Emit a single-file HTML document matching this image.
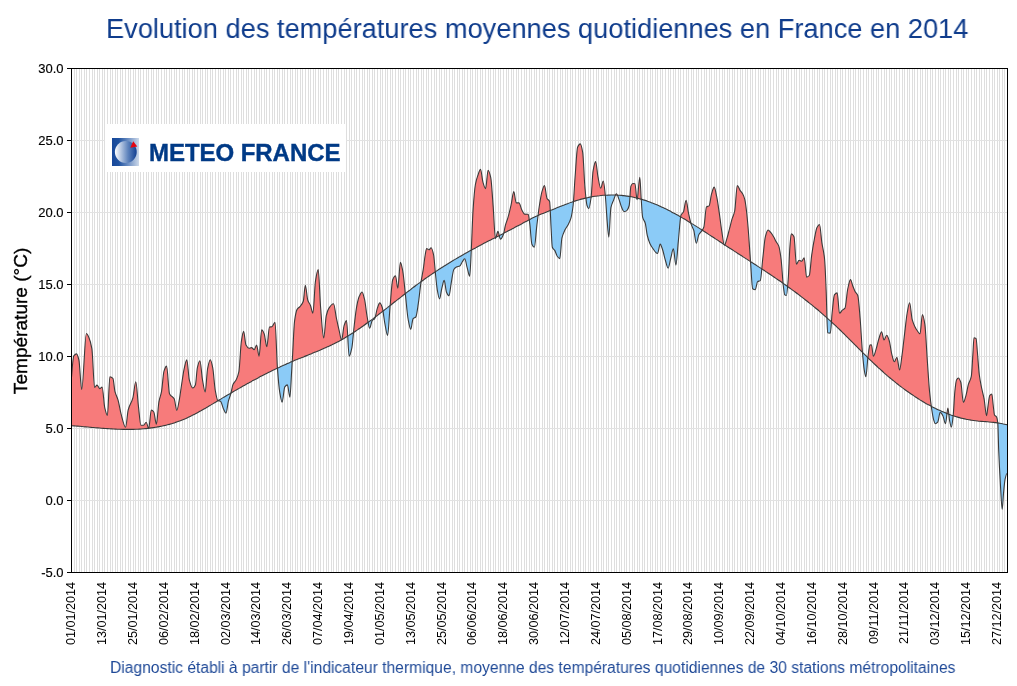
<!DOCTYPE html>
<html><head><meta charset="utf-8"><title>Evolution des températures moyennes quotidiennes en France en 2014</title>
<style>
html,body{margin:0;padding:0;background:#fff;}
#t1,#f1,#l1,.yl,.xl span,.ytitle span{will-change:transform;}
body{width:1017px;height:686px;overflow:hidden;position:relative;font-family:"Liberation Sans",sans-serif;}
#chart{position:absolute;left:0;top:0;width:1017px;height:686px;}
.title{position:absolute;left:0;top:10.3px;width:1017px;height:36px;line-height:36px;white-space:nowrap;color:#0f3c8c;font-size:28.2px;}
.title span{position:absolute;left:105.9px;display:inline-block;transform-origin:0 50%;transform:scaleX(0.9655);}
.foot{position:absolute;left:0;top:656.5px;height:22px;line-height:22px;white-space:nowrap;color:#1f4997;font-size:16px;}
.foot span{position:absolute;left:110.1px;display:inline-block;transform-origin:0 50%;transform:scaleX(0.9764);}
.yl{position:absolute;right:953.3px;width:40px;text-align:right;font-size:13px;line-height:14px;height:14px;color:#000;white-space:nowrap;transform:translate(-0.4px,-0.3px) scale(1,1.04);transform-origin:100% 80%;-webkit-text-stroke:0.15px #000;}
.xl{position:absolute;top:581px;width:14px;height:66px;color:#000;font-size:13px;}
.xl span{position:absolute;left:0;top:0;display:block;width:66px;height:14px;line-height:14px;text-align:right;white-space:nowrap;transform-origin:0 0;transform:translate(0,66px) rotate(-90deg);}
.xl span b{font-weight:normal;display:inline-block;transform:scaleX(0.97);transform-origin:50% 50%;}
.ytitle{position:absolute;left:10px;top:247px;width:22px;height:147px;color:#000;font-size:18px;}
.ytitle span{position:absolute;left:0;top:0;display:block;width:147px;height:22px;line-height:22px;text-align:center;white-space:nowrap;transform-origin:0 0;transform:translate(0,147px) rotate(-90deg);-webkit-text-stroke:0.3px #000;}
.ytitle span b{font-weight:normal;display:inline-block;transform:scaleX(1.06);}
.logo{position:absolute;left:105px;top:124px;width:241px;height:48px;background:#fff;}
.logo .ico{position:absolute;left:7px;top:14px;width:27px;height:28px;}
.logo .txt{position:absolute;left:44.2px;-webkit-text-stroke:0.4px #003a86;letter-spacing:-0.05px;top:12.5px;height:32px;line-height:32px;font-weight:bold;font-size:24px;color:#003a86;white-space:nowrap;}
.logo .txt span{display:inline-block;transform-origin:0 50%;}
</style></head><body>
<svg id="chart" width="1017" height="686" viewBox="0 0 1017 686">
<defs>
<clipPath id="above"><path d="M71.5 425.7C72.2 425.7 74.2 425.9 75.5 426C76.8 426.1 78.2 426.2 79.5 426.3C80.8 426.4 82.2 426.5 83.5 426.7C84.8 426.8 86.2 426.9 87.5 427C88.8 427.1 90.2 427.2 91.5 427.4C92.8 427.5 94.2 427.6 95.5 427.7C96.8 427.8 98.2 427.9 99.5 428C100.8 428.1 102.2 428.3 103.5 428.4C104.8 428.5 106.2 428.5 107.5 428.6C108.8 428.7 110.2 428.8 111.5 428.9C112.8 429 114.2 429 115.5 429.1C116.8 429.2 118.2 429.2 119.5 429.3C120.8 429.3 122.2 429.3 123.5 429.4C124.8 429.4 126.2 429.4 127.5 429.4C128.8 429.4 130.2 429.4 131.5 429.4C132.8 429.4 134.2 429.3 135.5 429.3C136.8 429.2 138.2 429.2 139.5 429.1C140.8 429 142.2 428.9 143.5 428.8C144.8 428.7 146.2 428.6 147.5 428.4C148.8 428.3 150.2 428.1 151.5 427.9C152.8 427.8 154.2 427.6 155.5 427.3C156.8 427.1 158.2 426.9 159.5 426.6C160.8 426.4 162.2 426.1 163.5 425.8C164.8 425.5 166.2 425.2 167.5 424.8C168.8 424.5 170.2 424.1 171.5 423.7C172.8 423.3 174.2 422.9 175.5 422.4C176.8 422 178.2 421.5 179.5 421C180.8 420.5 182.2 420 183.5 419.4C184.8 418.9 186.2 418.3 187.5 417.7C188.8 417.1 190.2 416.4 191.5 415.8C192.8 415.1 194.2 414.4 195.5 413.7C196.8 413 198.2 412.3 199.5 411.5C200.8 410.8 202.2 410.1 203.5 409.3C204.8 408.5 206.2 407.7 207.5 407C208.8 406.2 210.2 405.4 211.5 404.6C212.8 403.8 214.2 403 215.5 402.2C216.8 401.4 218.2 400.6 219.5 399.8C220.8 399 222.2 398.2 223.5 397.4C224.8 396.6 226.2 395.8 227.5 395C228.8 394.3 230.2 393.5 231.5 392.7C232.8 391.9 234.2 391.2 235.5 390.4C236.8 389.6 238.2 388.9 239.5 388.1C240.8 387.3 242.2 386.6 243.5 385.8C244.8 385.1 246.2 384.3 247.5 383.6C248.8 382.9 250.2 382.1 251.5 381.4C252.8 380.7 254.2 380 255.5 379.3C256.8 378.5 258.2 377.8 259.5 377.1C260.8 376.4 262.2 375.7 263.5 375C264.8 374.4 266.2 373.7 267.5 373C268.8 372.3 270.2 371.7 271.5 371C272.8 370.4 274.2 369.7 275.5 369.1C276.8 368.4 278.2 367.8 279.5 367.2C280.8 366.5 282.2 365.9 283.5 365.3C284.8 364.7 286.2 364.1 287.5 363.5C288.8 362.9 290.2 362.4 291.5 361.8C292.8 361.2 294.2 360.7 295.5 360.1C296.8 359.6 298.2 359 299.5 358.5C300.8 357.9 302.2 357.4 303.5 356.9C304.8 356.3 306.2 355.8 307.5 355.3C308.8 354.7 310.2 354.2 311.5 353.7C312.8 353.1 314.2 352.6 315.5 352C316.8 351.5 318.2 350.9 319.5 350.4C320.8 349.8 322.2 349.2 323.5 348.6C324.8 348 326.2 347.5 327.5 346.8C328.8 346.2 330.2 345.6 331.5 345C332.8 344.3 334.2 343.7 335.5 343C336.8 342.3 338.2 341.6 339.5 340.9C340.8 340.2 342.2 339.4 343.5 338.7C344.8 337.9 346.2 337.1 347.5 336.3C348.8 335.5 350.2 334.7 351.5 333.8C352.8 333 354.2 332.1 355.5 331.2C356.8 330.3 358.2 329.4 359.5 328.5C360.8 327.6 362.2 326.7 363.5 325.7C364.8 324.8 366.2 323.8 367.5 322.8C368.8 321.9 370.2 320.9 371.5 319.9C372.8 318.9 374.2 317.9 375.5 316.9C376.8 315.9 378.2 314.8 379.5 313.8C380.8 312.8 382.2 311.8 383.5 310.7C384.8 309.7 386.2 308.6 387.5 307.6C388.8 306.5 390.2 305.5 391.5 304.5C392.8 303.4 394.2 302.3 395.5 301.3C396.8 300.2 398.2 299.2 399.5 298.2C400.8 297.1 402.2 296.1 403.5 295C404.8 294 406.2 292.9 407.5 291.9C408.8 290.9 410.2 289.9 411.5 288.8C412.8 287.8 414.2 286.8 415.5 285.8C416.8 284.8 418.2 283.8 419.5 282.9C420.8 281.9 422.2 280.9 423.5 280C424.8 279 426.2 278.1 427.5 277.1C428.8 276.2 430.2 275.3 431.5 274.4C432.8 273.5 434.2 272.6 435.5 271.7C436.8 270.8 438.2 269.9 439.5 269C440.8 268.2 442.2 267.3 443.5 266.5C444.8 265.6 446.2 264.8 447.5 264C448.8 263.1 450.2 262.3 451.5 261.5C452.8 260.7 454.2 259.9 455.5 259.1C456.8 258.3 458.2 257.5 459.5 256.8C460.8 256 462.2 255.2 463.5 254.5C464.8 253.7 466.2 253 467.5 252.2C468.8 251.5 470.2 250.7 471.5 250C472.8 249.3 474.2 248.6 475.5 247.9C476.8 247.1 478.2 246.4 479.5 245.7C480.8 245 482.2 244.3 483.5 243.6C484.8 243 486.2 242.3 487.5 241.6C488.8 240.9 490.2 240.2 491.5 239.5C492.8 238.8 494.2 238.2 495.5 237.5C496.8 236.8 498.2 236.1 499.5 235.4C500.8 234.8 502.2 234.1 503.5 233.4C504.8 232.7 506.2 232 507.5 231.3C508.8 230.6 510.2 229.9 511.5 229.2C512.8 228.5 514.2 227.8 515.5 227.1C516.8 226.4 518.2 225.7 519.5 225C520.8 224.3 522.2 223.5 523.5 222.8C524.8 222.1 526.2 221.4 527.5 220.7C528.8 220 530.2 219.3 531.5 218.6C532.8 217.9 534.2 217.3 535.5 216.6C536.8 216 538.2 215.4 539.5 214.8C540.8 214.2 542.2 213.7 543.5 213.2C544.8 212.6 546.2 212.1 547.5 211.6C548.8 211.1 550.2 210.6 551.5 210C552.8 209.5 554.2 209 555.5 208.4C556.8 207.9 558.2 207.4 559.5 206.8C560.8 206.3 562.2 205.8 563.5 205.3C564.8 204.7 566.2 204.2 567.5 203.7C568.8 203.2 570.2 202.7 571.5 202.3C572.8 201.8 574.2 201.3 575.5 200.9C576.8 200.5 578.2 200.1 579.5 199.7C580.8 199.3 582.2 199 583.5 198.6C584.8 198.3 586.2 198 587.5 197.7C588.8 197.4 590.2 197.1 591.5 196.9C592.8 196.6 594.2 196.4 595.5 196.2C596.8 196 598.2 195.8 599.5 195.7C600.8 195.5 602.2 195.4 603.5 195.3C604.8 195.2 606.2 195.1 607.5 195.1C608.8 195 610.2 195 611.5 195C612.8 195 614.2 195 615.5 195C616.8 195.1 618.2 195.2 619.5 195.2C620.8 195.3 622.2 195.5 623.5 195.6C624.8 195.8 626.2 195.9 627.5 196.1C628.8 196.4 630.2 196.6 631.5 196.8C632.8 197.1 634.2 197.4 635.5 197.7C636.8 198 638.2 198.3 639.5 198.7C640.8 199.1 642.2 199.4 643.5 199.9C644.8 200.3 646.2 200.7 647.5 201.2C648.8 201.7 650.2 202.1 651.5 202.7C652.8 203.2 654.2 203.7 655.5 204.3C656.8 204.8 658.2 205.4 659.5 206C660.8 206.6 662.2 207.2 663.5 207.8C664.8 208.5 666.2 209.1 667.5 209.8C668.8 210.5 670.2 211.2 671.5 211.9C672.8 212.6 674.2 213.3 675.5 214C676.8 214.7 678.2 215.5 679.5 216.2C680.8 217 682.2 217.8 683.5 218.6C684.8 219.3 686.2 220.1 687.5 221C688.8 221.8 690.2 222.6 691.5 223.4C692.8 224.2 694.2 225.1 695.5 225.9C696.8 226.7 698.2 227.6 699.5 228.4C700.8 229.3 702.2 230.1 703.5 231C704.8 231.9 706.2 232.7 707.5 233.6C708.8 234.5 710.2 235.4 711.5 236.2C712.8 237.1 714.2 238 715.5 238.9C716.8 239.7 718.2 240.6 719.5 241.5C720.8 242.4 722.2 243.2 723.5 244.1C724.8 245 726.2 245.9 727.5 246.7C728.8 247.6 730.2 248.5 731.5 249.3C732.8 250.2 734.2 251 735.5 251.9C736.8 252.8 738.2 253.6 739.5 254.5C740.8 255.3 742.2 256.2 743.5 257.1C744.8 257.9 746.2 258.8 747.5 259.6C748.8 260.5 750.2 261.4 751.5 262.2C752.8 263.1 754.2 263.9 755.5 264.8C756.8 265.7 758.2 266.5 759.5 267.4C760.8 268.3 762.2 269.2 763.5 270C764.8 270.9 766.2 271.8 767.5 272.7C768.8 273.6 770.2 274.5 771.5 275.4C772.8 276.3 774.2 277.2 775.5 278.1C776.8 279 778.2 279.9 779.5 280.8C780.8 281.8 782.2 282.7 783.5 283.6C784.8 284.6 786.2 285.5 787.5 286.5C788.8 287.4 790.2 288.4 791.5 289.4C792.8 290.3 794.2 291.3 795.5 292.3C796.8 293.3 798.2 294.3 799.5 295.3C800.8 296.3 802.2 297.4 803.5 298.4C804.8 299.4 806.2 300.5 807.5 301.5C808.8 302.6 810.2 303.6 811.5 304.7C812.8 305.8 814.2 306.9 815.5 308C816.8 309.1 818.2 310.2 819.5 311.4C820.8 312.5 822.2 313.7 823.5 314.8C824.8 316 826.2 317.2 827.5 318.4C828.8 319.6 830.2 320.8 831.5 322C832.8 323.2 834.2 324.5 835.5 325.7C836.8 327 838.2 328.2 839.5 329.5C840.8 330.8 842.2 332.1 843.5 333.4C844.8 334.7 846.2 336 847.5 337.3C848.8 338.6 850.2 340 851.5 341.3C852.8 342.6 854.2 344 855.5 345.3C856.8 346.7 858.2 348 859.5 349.4C860.8 350.7 862.2 352.1 863.5 353.4C864.8 354.7 866.2 356 867.5 357.4C868.8 358.7 870.2 360 871.5 361.2C872.8 362.5 874.2 363.8 875.5 365C876.8 366.3 878.2 367.5 879.5 368.7C880.8 369.9 882.2 371.1 883.5 372.3C884.8 373.5 886.2 374.6 887.5 375.8C888.8 376.9 890.2 378 891.5 379.1C892.8 380.3 894.2 381.3 895.5 382.4C896.8 383.5 898.2 384.5 899.5 385.6C900.8 386.6 902.2 387.6 903.5 388.6C904.8 389.6 906.2 390.6 907.5 391.5C908.8 392.5 910.2 393.4 911.5 394.3C912.8 395.2 914.2 396.1 915.5 397C916.8 397.9 918.2 398.7 919.5 399.6C920.8 400.4 922.2 401.2 923.5 402C924.8 402.8 926.2 403.5 927.5 404.3C928.8 405 930.2 405.7 931.5 406.4C932.8 407.1 934.2 407.8 935.5 408.5C936.8 409.1 938.2 409.7 939.5 410.3C940.8 411 942.2 411.5 943.5 412.1C944.8 412.7 946.2 413.2 947.5 413.7C948.8 414.2 950.2 414.7 951.5 415.2C952.8 415.6 954.2 416.1 955.5 416.5C956.8 416.9 958.2 417.3 959.5 417.6C960.8 418 962.2 418.3 963.5 418.6C964.8 419 966.2 419.2 967.5 419.5C968.8 419.8 970.2 420 971.5 420.2C972.8 420.4 974.2 420.6 975.5 420.7C976.8 420.9 978.2 421 979.5 421.2C980.8 421.3 982.2 421.4 983.5 421.5C984.8 421.6 986.2 421.7 987.5 421.8C988.8 422 990.2 422.1 991.5 422.2C992.8 422.3 994.2 422.5 995.5 422.6C996.8 422.8 998.2 423 999.5 423.2C1000.8 423.4 1002.2 423.7 1003.5 424C1004.8 424.2 1006.8 424.8 1007.5 424.9L1007.5 68L71.5 68Z"/></clipPath>
<clipPath id="below"><path d="M71.5 425.7C72.2 425.7 74.2 425.9 75.5 426C76.8 426.1 78.2 426.2 79.5 426.3C80.8 426.4 82.2 426.5 83.5 426.7C84.8 426.8 86.2 426.9 87.5 427C88.8 427.1 90.2 427.2 91.5 427.4C92.8 427.5 94.2 427.6 95.5 427.7C96.8 427.8 98.2 427.9 99.5 428C100.8 428.1 102.2 428.3 103.5 428.4C104.8 428.5 106.2 428.5 107.5 428.6C108.8 428.7 110.2 428.8 111.5 428.9C112.8 429 114.2 429 115.5 429.1C116.8 429.2 118.2 429.2 119.5 429.3C120.8 429.3 122.2 429.3 123.5 429.4C124.8 429.4 126.2 429.4 127.5 429.4C128.8 429.4 130.2 429.4 131.5 429.4C132.8 429.4 134.2 429.3 135.5 429.3C136.8 429.2 138.2 429.2 139.5 429.1C140.8 429 142.2 428.9 143.5 428.8C144.8 428.7 146.2 428.6 147.5 428.4C148.8 428.3 150.2 428.1 151.5 427.9C152.8 427.8 154.2 427.6 155.5 427.3C156.8 427.1 158.2 426.9 159.5 426.6C160.8 426.4 162.2 426.1 163.5 425.8C164.8 425.5 166.2 425.2 167.5 424.8C168.8 424.5 170.2 424.1 171.5 423.7C172.8 423.3 174.2 422.9 175.5 422.4C176.8 422 178.2 421.5 179.5 421C180.8 420.5 182.2 420 183.5 419.4C184.8 418.9 186.2 418.3 187.5 417.7C188.8 417.1 190.2 416.4 191.5 415.8C192.8 415.1 194.2 414.4 195.5 413.7C196.8 413 198.2 412.3 199.5 411.5C200.8 410.8 202.2 410.1 203.5 409.3C204.8 408.5 206.2 407.7 207.5 407C208.8 406.2 210.2 405.4 211.5 404.6C212.8 403.8 214.2 403 215.5 402.2C216.8 401.4 218.2 400.6 219.5 399.8C220.8 399 222.2 398.2 223.5 397.4C224.8 396.6 226.2 395.8 227.5 395C228.8 394.3 230.2 393.5 231.5 392.7C232.8 391.9 234.2 391.2 235.5 390.4C236.8 389.6 238.2 388.9 239.5 388.1C240.8 387.3 242.2 386.6 243.5 385.8C244.8 385.1 246.2 384.3 247.5 383.6C248.8 382.9 250.2 382.1 251.5 381.4C252.8 380.7 254.2 380 255.5 379.3C256.8 378.5 258.2 377.8 259.5 377.1C260.8 376.4 262.2 375.7 263.5 375C264.8 374.4 266.2 373.7 267.5 373C268.8 372.3 270.2 371.7 271.5 371C272.8 370.4 274.2 369.7 275.5 369.1C276.8 368.4 278.2 367.8 279.5 367.2C280.8 366.5 282.2 365.9 283.5 365.3C284.8 364.7 286.2 364.1 287.5 363.5C288.8 362.9 290.2 362.4 291.5 361.8C292.8 361.2 294.2 360.7 295.5 360.1C296.8 359.6 298.2 359 299.5 358.5C300.8 357.9 302.2 357.4 303.5 356.9C304.8 356.3 306.2 355.8 307.5 355.3C308.8 354.7 310.2 354.2 311.5 353.7C312.8 353.1 314.2 352.6 315.5 352C316.8 351.5 318.2 350.9 319.5 350.4C320.8 349.8 322.2 349.2 323.5 348.6C324.8 348 326.2 347.5 327.5 346.8C328.8 346.2 330.2 345.6 331.5 345C332.8 344.3 334.2 343.7 335.5 343C336.8 342.3 338.2 341.6 339.5 340.9C340.8 340.2 342.2 339.4 343.5 338.7C344.8 337.9 346.2 337.1 347.5 336.3C348.8 335.5 350.2 334.7 351.5 333.8C352.8 333 354.2 332.1 355.5 331.2C356.8 330.3 358.2 329.4 359.5 328.5C360.8 327.6 362.2 326.7 363.5 325.7C364.8 324.8 366.2 323.8 367.5 322.8C368.8 321.9 370.2 320.9 371.5 319.9C372.8 318.9 374.2 317.9 375.5 316.9C376.8 315.9 378.2 314.8 379.5 313.8C380.8 312.8 382.2 311.8 383.5 310.7C384.8 309.7 386.2 308.6 387.5 307.6C388.8 306.5 390.2 305.5 391.5 304.5C392.8 303.4 394.2 302.3 395.5 301.3C396.8 300.2 398.2 299.2 399.5 298.2C400.8 297.1 402.2 296.1 403.5 295C404.8 294 406.2 292.9 407.5 291.9C408.8 290.9 410.2 289.9 411.5 288.8C412.8 287.8 414.2 286.8 415.5 285.8C416.8 284.8 418.2 283.8 419.5 282.9C420.8 281.9 422.2 280.9 423.5 280C424.8 279 426.2 278.1 427.5 277.1C428.8 276.2 430.2 275.3 431.5 274.4C432.8 273.5 434.2 272.6 435.5 271.7C436.8 270.8 438.2 269.9 439.5 269C440.8 268.2 442.2 267.3 443.5 266.5C444.8 265.6 446.2 264.8 447.5 264C448.8 263.1 450.2 262.3 451.5 261.5C452.8 260.7 454.2 259.9 455.5 259.1C456.8 258.3 458.2 257.5 459.5 256.8C460.8 256 462.2 255.2 463.5 254.5C464.8 253.7 466.2 253 467.5 252.2C468.8 251.5 470.2 250.7 471.5 250C472.8 249.3 474.2 248.6 475.5 247.9C476.8 247.1 478.2 246.4 479.5 245.7C480.8 245 482.2 244.3 483.5 243.6C484.8 243 486.2 242.3 487.5 241.6C488.8 240.9 490.2 240.2 491.5 239.5C492.8 238.8 494.2 238.2 495.5 237.5C496.8 236.8 498.2 236.1 499.5 235.4C500.8 234.8 502.2 234.1 503.5 233.4C504.8 232.7 506.2 232 507.5 231.3C508.8 230.6 510.2 229.9 511.5 229.2C512.8 228.5 514.2 227.8 515.5 227.1C516.8 226.4 518.2 225.7 519.5 225C520.8 224.3 522.2 223.5 523.5 222.8C524.8 222.1 526.2 221.4 527.5 220.7C528.8 220 530.2 219.3 531.5 218.6C532.8 217.9 534.2 217.3 535.5 216.6C536.8 216 538.2 215.4 539.5 214.8C540.8 214.2 542.2 213.7 543.5 213.2C544.8 212.6 546.2 212.1 547.5 211.6C548.8 211.1 550.2 210.6 551.5 210C552.8 209.5 554.2 209 555.5 208.4C556.8 207.9 558.2 207.4 559.5 206.8C560.8 206.3 562.2 205.8 563.5 205.3C564.8 204.7 566.2 204.2 567.5 203.7C568.8 203.2 570.2 202.7 571.5 202.3C572.8 201.8 574.2 201.3 575.5 200.9C576.8 200.5 578.2 200.1 579.5 199.7C580.8 199.3 582.2 199 583.5 198.6C584.8 198.3 586.2 198 587.5 197.7C588.8 197.4 590.2 197.1 591.5 196.9C592.8 196.6 594.2 196.4 595.5 196.2C596.8 196 598.2 195.8 599.5 195.7C600.8 195.5 602.2 195.4 603.5 195.3C604.8 195.2 606.2 195.1 607.5 195.1C608.8 195 610.2 195 611.5 195C612.8 195 614.2 195 615.5 195C616.8 195.1 618.2 195.2 619.5 195.2C620.8 195.3 622.2 195.5 623.5 195.6C624.8 195.8 626.2 195.9 627.5 196.1C628.8 196.4 630.2 196.6 631.5 196.8C632.8 197.1 634.2 197.4 635.5 197.7C636.8 198 638.2 198.3 639.5 198.7C640.8 199.1 642.2 199.4 643.5 199.9C644.8 200.3 646.2 200.7 647.5 201.2C648.8 201.7 650.2 202.1 651.5 202.7C652.8 203.2 654.2 203.7 655.5 204.3C656.8 204.8 658.2 205.4 659.5 206C660.8 206.6 662.2 207.2 663.5 207.8C664.8 208.5 666.2 209.1 667.5 209.8C668.8 210.5 670.2 211.2 671.5 211.9C672.8 212.6 674.2 213.3 675.5 214C676.8 214.7 678.2 215.5 679.5 216.2C680.8 217 682.2 217.8 683.5 218.6C684.8 219.3 686.2 220.1 687.5 221C688.8 221.8 690.2 222.6 691.5 223.4C692.8 224.2 694.2 225.1 695.5 225.9C696.8 226.7 698.2 227.6 699.5 228.4C700.8 229.3 702.2 230.1 703.5 231C704.8 231.9 706.2 232.7 707.5 233.6C708.8 234.5 710.2 235.4 711.5 236.2C712.8 237.1 714.2 238 715.5 238.9C716.8 239.7 718.2 240.6 719.5 241.5C720.8 242.4 722.2 243.2 723.5 244.1C724.8 245 726.2 245.9 727.5 246.7C728.8 247.6 730.2 248.5 731.5 249.3C732.8 250.2 734.2 251 735.5 251.9C736.8 252.8 738.2 253.6 739.5 254.5C740.8 255.3 742.2 256.2 743.5 257.1C744.8 257.9 746.2 258.8 747.5 259.6C748.8 260.5 750.2 261.4 751.5 262.2C752.8 263.1 754.2 263.9 755.5 264.8C756.8 265.7 758.2 266.5 759.5 267.4C760.8 268.3 762.2 269.2 763.5 270C764.8 270.9 766.2 271.8 767.5 272.7C768.8 273.6 770.2 274.5 771.5 275.4C772.8 276.3 774.2 277.2 775.5 278.1C776.8 279 778.2 279.9 779.5 280.8C780.8 281.8 782.2 282.7 783.5 283.6C784.8 284.6 786.2 285.5 787.5 286.5C788.8 287.4 790.2 288.4 791.5 289.4C792.8 290.3 794.2 291.3 795.5 292.3C796.8 293.3 798.2 294.3 799.5 295.3C800.8 296.3 802.2 297.4 803.5 298.4C804.8 299.4 806.2 300.5 807.5 301.5C808.8 302.6 810.2 303.6 811.5 304.7C812.8 305.8 814.2 306.9 815.5 308C816.8 309.1 818.2 310.2 819.5 311.4C820.8 312.5 822.2 313.7 823.5 314.8C824.8 316 826.2 317.2 827.5 318.4C828.8 319.6 830.2 320.8 831.5 322C832.8 323.2 834.2 324.5 835.5 325.7C836.8 327 838.2 328.2 839.5 329.5C840.8 330.8 842.2 332.1 843.5 333.4C844.8 334.7 846.2 336 847.5 337.3C848.8 338.6 850.2 340 851.5 341.3C852.8 342.6 854.2 344 855.5 345.3C856.8 346.7 858.2 348 859.5 349.4C860.8 350.7 862.2 352.1 863.5 353.4C864.8 354.7 866.2 356 867.5 357.4C868.8 358.7 870.2 360 871.5 361.2C872.8 362.5 874.2 363.8 875.5 365C876.8 366.3 878.2 367.5 879.5 368.7C880.8 369.9 882.2 371.1 883.5 372.3C884.8 373.5 886.2 374.6 887.5 375.8C888.8 376.9 890.2 378 891.5 379.1C892.8 380.3 894.2 381.3 895.5 382.4C896.8 383.5 898.2 384.5 899.5 385.6C900.8 386.6 902.2 387.6 903.5 388.6C904.8 389.6 906.2 390.6 907.5 391.5C908.8 392.5 910.2 393.4 911.5 394.3C912.8 395.2 914.2 396.1 915.5 397C916.8 397.9 918.2 398.7 919.5 399.6C920.8 400.4 922.2 401.2 923.5 402C924.8 402.8 926.2 403.5 927.5 404.3C928.8 405 930.2 405.7 931.5 406.4C932.8 407.1 934.2 407.8 935.5 408.5C936.8 409.1 938.2 409.7 939.5 410.3C940.8 411 942.2 411.5 943.5 412.1C944.8 412.7 946.2 413.2 947.5 413.7C948.8 414.2 950.2 414.7 951.5 415.2C952.8 415.6 954.2 416.1 955.5 416.5C956.8 416.9 958.2 417.3 959.5 417.6C960.8 418 962.2 418.3 963.5 418.6C964.8 419 966.2 419.2 967.5 419.5C968.8 419.8 970.2 420 971.5 420.2C972.8 420.4 974.2 420.6 975.5 420.7C976.8 420.9 978.2 421 979.5 421.2C980.8 421.3 982.2 421.4 983.5 421.5C984.8 421.6 986.2 421.7 987.5 421.8C988.8 422 990.2 422.1 991.5 422.2C992.8 422.3 994.2 422.5 995.5 422.6C996.8 422.8 998.2 423 999.5 423.2C1000.8 423.4 1002.2 423.7 1003.5 424C1004.8 424.2 1006.8 424.8 1007.5 424.9L1007.5 572L71.5 572Z"/></clipPath>
<clipPath id="plot"><rect x="71" y="68" width="937" height="505"/></clipPath>
</defs>
<rect x="71" y="68" width="936" height="504" fill="#fff"/>
<path d="M74.5 69V572M76.5 69V572M79.5 69V572M81.5 69V572M84.5 69V572M86.5 69V572M89.5 69V572M92.5 69V572M94.5 69V572M97.5 69V572M99.5 69V572M102.5 69V572M104.5 69V572M107.5 69V572M110.5 69V572M112.5 69V572M115.5 69V572M117.5 69V572M120.5 69V572M122.5 69V572M125.5 69V572M128.5 69V572M130.5 69V572M133.5 69V572M135.5 69V572M138.5 69V572M140.5 69V572M143.5 69V572M146.5 69V572M148.5 69V572M151.5 69V572M153.5 69V572M156.5 69V572M158.5 69V572M161.5 69V572M164.5 69V572M166.5 69V572M169.5 69V572M171.5 69V572M174.5 69V572M176.5 69V572M179.5 69V572M182.5 69V572M184.5 69V572M187.5 69V572M189.5 69V572M192.5 69V572M194.5 69V572M197.5 69V572M200.5 69V572M202.5 69V572M205.5 69V572M207.5 69V572M210.5 69V572M212.5 69V572M215.5 69V572M218.5 69V572M220.5 69V572M223.5 69V572M225.5 69V572M228.5 69V572M230.5 69V572M233.5 69V572M236.5 69V572M238.5 69V572M241.5 69V572M243.5 69V572M246.5 69V572M248.5 69V572M251.5 69V572M254.5 69V572M256.5 69V572M259.5 69V572M261.5 69V572M264.5 69V572M266.5 69V572M269.5 69V572M272.5 69V572M274.5 69V572M277.5 69V572M279.5 69V572M282.5 69V572M284.5 69V572M287.5 69V572M290.5 69V572M292.5 69V572M295.5 69V572M297.5 69V572M300.5 69V572M302.5 69V572M305.5 69V572M308.5 69V572M310.5 69V572M313.5 69V572M315.5 69V572M318.5 69V572M320.5 69V572M323.5 69V572M326.5 69V572M328.5 69V572M331.5 69V572M333.5 69V572M336.5 69V572M338.5 69V572M341.5 69V572M344.5 69V572M346.5 69V572M349.5 69V572M351.5 69V572M354.5 69V572M356.5 69V572M359.5 69V572M362.5 69V572M364.5 69V572M367.5 69V572M369.5 69V572M372.5 69V572M374.5 69V572M377.5 69V572M380.5 69V572M382.5 69V572M385.5 69V572M387.5 69V572M390.5 69V572M392.5 69V572M395.5 69V572M398.5 69V572M400.5 69V572M403.5 69V572M405.5 69V572M408.5 69V572M410.5 69V572M413.5 69V572M416.5 69V572M418.5 69V572M421.5 69V572M423.5 69V572M426.5 69V572M428.5 69V572M431.5 69V572M434.5 69V572M436.5 69V572M439.5 69V572M441.5 69V572M444.5 69V572M446.5 69V572M449.5 69V572M452.5 69V572M454.5 69V572M457.5 69V572M459.5 69V572M462.5 69V572M464.5 69V572M467.5 69V572M470.5 69V572M472.5 69V572M475.5 69V572M477.5 69V572M480.5 69V572M482.5 69V572M485.5 69V572M488.5 69V572M490.5 69V572M493.5 69V572M495.5 69V572M498.5 69V572M500.5 69V572M503.5 69V572M506.5 69V572M508.5 69V572M511.5 69V572M513.5 69V572M516.5 69V572M518.5 69V572M521.5 69V572M524.5 69V572M526.5 69V572M529.5 69V572M531.5 69V572M534.5 69V572M536.5 69V572M539.5 69V572M542.5 69V572M544.5 69V572M547.5 69V572M549.5 69V572M552.5 69V572M554.5 69V572M557.5 69V572M560.5 69V572M562.5 69V572M565.5 69V572M567.5 69V572M570.5 69V572M572.5 69V572M575.5 69V572M578.5 69V572M580.5 69V572M583.5 69V572M585.5 69V572M588.5 69V572M590.5 69V572M593.5 69V572M596.5 69V572M598.5 69V572M601.5 69V572M603.5 69V572M606.5 69V572M608.5 69V572M611.5 69V572M614.5 69V572M616.5 69V572M619.5 69V572M621.5 69V572M624.5 69V572M626.5 69V572M629.5 69V572M632.5 69V572M634.5 69V572M637.5 69V572M639.5 69V572M642.5 69V572M644.5 69V572M647.5 69V572M650.5 69V572M652.5 69V572M655.5 69V572M657.5 69V572M660.5 69V572M662.5 69V572M665.5 69V572M668.5 69V572M670.5 69V572M673.5 69V572M675.5 69V572M678.5 69V572M680.5 69V572M683.5 69V572M686.5 69V572M688.5 69V572M691.5 69V572M693.5 69V572M696.5 69V572M698.5 69V572M701.5 69V572M704.5 69V572M706.5 69V572M709.5 69V572M711.5 69V572M714.5 69V572M716.5 69V572M719.5 69V572M722.5 69V572M724.5 69V572M727.5 69V572M729.5 69V572M732.5 69V572M734.5 69V572M737.5 69V572M740.5 69V572M742.5 69V572M745.5 69V572M747.5 69V572M750.5 69V572M752.5 69V572M755.5 69V572M758.5 69V572M760.5 69V572M763.5 69V572M765.5 69V572M768.5 69V572M770.5 69V572M773.5 69V572M776.5 69V572M778.5 69V572M781.5 69V572M783.5 69V572M786.5 69V572M788.5 69V572M791.5 69V572M794.5 69V572M796.5 69V572M799.5 69V572M801.5 69V572M804.5 69V572M806.5 69V572M809.5 69V572M812.5 69V572M814.5 69V572M817.5 69V572M819.5 69V572M822.5 69V572M824.5 69V572M827.5 69V572M830.5 69V572M832.5 69V572M835.5 69V572M837.5 69V572M840.5 69V572M842.5 69V572M845.5 69V572M848.5 69V572M850.5 69V572M853.5 69V572M855.5 69V572M858.5 69V572M860.5 69V572M863.5 69V572M866.5 69V572M868.5 69V572M871.5 69V572M873.5 69V572M876.5 69V572M878.5 69V572M881.5 69V572M884.5 69V572M886.5 69V572M889.5 69V572M891.5 69V572M894.5 69V572M896.5 69V572M899.5 69V572M902.5 69V572M904.5 69V572M907.5 69V572M909.5 69V572M912.5 69V572M914.5 69V572M917.5 69V572M920.5 69V572M922.5 69V572M925.5 69V572M927.5 69V572M930.5 69V572M932.5 69V572M935.5 69V572M938.5 69V572M940.5 69V572M943.5 69V572M945.5 69V572M948.5 69V572M950.5 69V572M953.5 69V572M956.5 69V572M958.5 69V572M961.5 69V572M963.5 69V572M966.5 69V572M968.5 69V572M971.5 69V572M974.5 69V572M976.5 69V572M979.5 69V572M981.5 69V572M984.5 69V572M986.5 69V572M989.5 69V572M992.5 69V572M994.5 69V572M997.5 69V572M999.5 69V572M1002.5 69V572M1004.5 69V572" stroke="#dedede" stroke-width="1" fill="none" shape-rendering="crispEdges"/>
<path d="M72 140.5H1007M72 212.5H1007M72 284.5H1007M72 356.5H1007M72 428.5H1007M72 500.5H1007" stroke="#e2e2e2" stroke-width="1" fill="none" shape-rendering="crispEdges"/>
<g clip-path="url(#plot)">
<g clip-path="url(#above)"><path d="M71.5 377.3C72.27 367.2 73.03 356.95 73.8 355.9C74.73 354.63 75.67 353.9 76.6 353.9C77.37 353.9 78.13 356.81 78.9 360C79.83 363.88 80.77 389.6 81.7 389.6C83.27 389.6 84.83 333.5 86.4 333.5C87.23 333.5 88.07 335.65 88.9 337.5C89.9 339.72 90.9 342.77 91.9 348.8C92.8 354.22 93.7 387.5 94.6 387.5C95.4 387.5 96.2 385.1 97 385.1C97.9 385.1 98.8 388.6 99.7 388.6C100.5 388.6 101.3 387.1 102.1 387.1C103 387.1 103.9 404.23 104.8 408C105.67 411.63 106.53 415.5 107.4 415.5C108.23 415.5 109.07 376.7 109.9 376.7C110.9 376.7 111.9 377.31 112.9 378.4C113.6 379.17 114.3 388.87 115 391.6C116 395.5 117 396.37 118 399.8C119.03 403.34 120.07 410.34 121.1 414.1C122.6 419.55 124.1 427.3 125.6 427.3C126.47 427.3 127.33 413.38 128.2 410C129.77 403.89 131.33 403.49 132.9 397.8C133.87 394.29 134.83 381.8 135.8 381.8C136.67 381.8 137.53 398.58 138.4 405.9C139.23 412.94 140.07 425.3 140.9 425.3C141.8 425.3 142.7 425.3 143.6 425.3C144.47 425.3 145.33 422.2 146.2 422.2C147.03 422.2 147.87 428.4 148.7 428.4C149.57 428.4 150.43 410 151.3 410C152.13 410 152.97 410.86 153.8 412C154.67 413.18 155.53 424.3 156.4 424.3C157.23 424.3 158.07 406.37 158.9 401.8C159.77 397.05 160.63 396.2 161.5 391.6C162.33 387.17 163.17 373.85 164 371.2C164.87 368.45 165.73 366.1 166.6 366.1C167.57 366.1 168.53 391.69 169.5 393.7C171.07 396.96 172.63 395.9 174.2 398.8C175.07 400.41 175.93 410.4 176.8 410.4C177.63 410.4 178.47 404.14 179.3 399.8C179.9 396.67 180.5 391.85 181.1 388C182.13 381.37 183.17 373.1 184.2 368.6C185.07 364.83 185.93 359.8 186.8 359.8C187.63 359.8 188.47 376.62 189.3 379.8C190.43 384.12 191.57 388 192.7 388C193.6 388 194.5 386.8 195.4 384.9C196.07 383.5 196.73 370.41 197.4 367.6C198.23 364.08 199.07 360.8 199.9 360.8C200.77 360.8 201.63 374.95 202.5 379.8C203.4 384.83 204.3 392 205.2 392C206 392 206.8 372.55 207.6 368.6C208.5 364.16 209.4 359.8 210.3 359.8C211.1 359.8 211.9 363.8 212.7 367.6C213.53 371.56 214.37 385.32 215.2 390C216.07 394.87 216.93 400.23 217.8 400.6C218.7 400.98 219.6 400.83 220.5 401.2C221.43 401.58 222.37 406.46 223.3 408.4C224.2 410.27 225.1 413.1 226 413.1C226.8 413.1 227.6 404.24 228.4 401.2C229.17 398.29 229.93 396.79 230.7 394.1C231.5 391.29 232.3 386.05 233.1 384.3C234.13 382.04 235.17 381.85 236.2 379.8C237.1 378.02 238 376.04 238.9 371.6C239.7 367.65 240.5 347.35 241.3 342C242.07 336.87 242.83 331.4 243.6 331.4C244.4 331.4 245.2 343.63 246 345.1C246.97 346.88 247.93 348.2 248.9 348.2C249.77 348.2 250.63 347.6 251.5 347.6C252.4 347.6 253.3 349.6 254.2 349.6C255 349.6 255.8 345.1 256.6 345.1C257.43 345.1 258.27 356.3 259.1 356.3C259.97 356.3 260.83 329.8 261.7 329.8C262.53 329.8 263.37 331.86 264.2 333.9C265.07 336.03 265.93 346.7 266.8 346.7C267.7 346.7 268.6 327.39 269.5 327.1C270.3 326.84 271.1 326.93 271.9 326.7C272.93 326.4 273.97 322.2 275 322.2C275.8 322.2 276.6 356.75 277.4 367.6C278.17 378 278.93 387.33 279.7 392C280.5 396.87 281.3 402.2 282.1 402.2C283 402.2 283.9 388.11 284.8 386.9C285.67 385.73 286.53 384.9 287.4 384.9C288.23 384.9 289.07 397.1 289.9 397.1C290.47 397.1 291.03 381.01 291.6 372C291.93 366.7 292.27 360.75 292.6 355C293.23 344.07 293.87 326.44 294.5 321.6C295.37 314.98 296.23 310.86 297.1 309.4C298.13 307.66 299.17 307.59 300.2 306.3C301.23 305.01 302.27 304.16 303.3 301.2C303.97 299.29 304.63 285.3 305.3 285.3C306.13 285.3 306.97 297.73 307.8 300.2C308.67 302.77 309.53 303.21 310.4 305.3C311.23 307.31 312.07 313.1 312.9 313.1C313.77 313.1 314.63 286.21 315.5 280.8C316.4 275.18 317.3 269.6 318.2 269.6C319 269.6 319.8 297.49 320.6 307.3C321.63 319.97 322.67 338 323.7 338C324.57 338 325.43 319.19 326.3 315.5C327.13 311.95 327.97 309.7 328.8 308.4C330.37 305.96 331.93 303.7 333.5 303.7C334.5 303.7 335.5 313.9 336.5 318.6C337.33 322.52 338.17 326.31 339 329.8C339.87 333.43 340.73 340 341.6 340C342.43 340 343.27 328.27 344.1 325.7C344.9 323.23 345.7 320.6 346.5 320.6C347.4 320.6 348.3 356.3 349.2 356.3C350.07 356.3 350.93 352.27 351.8 348.2C352.63 344.29 353.47 331.64 354.3 324.7C355.17 317.48 356.03 309.56 356.9 305.3C357.73 301.2 358.57 297.94 359.4 296.1C360.27 294.18 361.13 292 362 292C362.83 292 363.67 295.86 364.5 299.2C365.37 302.68 366.23 311.74 367.1 316.5C367.93 321.07 368.77 328.2 369.6 328.2C370.47 328.2 371.33 321.68 372.2 320.6C373.03 319.56 373.87 319.7 374.7 318.6C375.57 317.45 376.43 310.84 377.3 308.4C378.13 306.06 378.97 302.9 379.8 302.9C380.6 302.9 381.4 305.07 382.2 307.3C383.1 309.81 384 319.13 384.9 323.7C385.8 328.27 386.7 335.5 387.6 335.5C388.4 335.5 389.2 316.04 390 307.3C390.9 297.47 391.8 282.11 392.7 279.8C393.63 277.4 394.57 275.7 395.5 275.7C396.27 275.7 397.03 288.3 397.8 288.3C398.67 288.3 399.53 262.4 400.4 262.4C401.2 262.4 402 267.13 402.8 271.3C403.67 275.82 404.53 286.8 405.4 294.6C406.3 302.7 407.2 314.17 408.1 319C409 323.83 409.9 329.3 410.8 329.3C411.53 329.3 412.27 319.72 413 318.8C413.97 317.59 414.93 318.01 415.9 316.8C416.7 315.8 417.5 308.89 418.3 303.7C419.17 298.08 420.03 288.56 420.9 282.8C421.67 277.71 422.43 274.63 423.2 269.7C423.87 265.41 424.53 258.74 425.2 255C425.67 252.38 426.13 248.5 426.6 248.5C427.37 248.5 428.13 249.8 428.9 249.8C429.63 249.8 430.37 247.8 431.1 247.8C431.93 247.8 432.77 251.16 433.6 255C434.2 257.77 434.8 267.3 435.4 273C436 278.7 436.6 285.82 437.2 289.3C437.97 293.75 438.73 298.9 439.5 298.9C440.3 298.9 441.1 291.06 441.9 288C442.67 285.07 443.43 280.4 444.2 280.4C444.97 280.4 445.73 290.46 446.5 292.2C447.33 294.09 448.17 295.8 449 295.8C449.73 295.8 450.47 287.23 451.2 283.2C452.07 278.44 452.93 270.87 453.8 269.5C454.7 268.08 455.6 267.42 456.5 267C457.6 266.49 458.7 266.59 459.8 266C460.6 265.57 461.4 263.16 462.2 262C463.03 260.79 463.87 258.8 464.7 258.8C465.57 258.8 466.43 265.18 467.3 268.2C468.1 270.99 468.9 276.3 469.7 276.3C470.23 276.3 470.77 260.02 471.3 249.8C471.87 238.94 472.43 219.6 473 211C473.8 198.85 474.6 188.93 475.4 184.5C476.23 179.88 477.07 177.69 477.9 175.3C478.77 172.81 479.63 169.2 480.5 169.2C481.33 169.2 482.17 179.66 483 182.4C483.87 185.25 484.73 188.6 485.6 188.6C486.43 188.6 487.27 170.2 488.1 170.2C488.97 170.2 489.83 173.44 490.7 177.3C491.53 181.01 492.37 196.05 493.2 206.9C493.93 216.45 494.67 238.6 495.4 238.6C496.23 238.6 497.07 231.4 497.9 231.4C498.77 231.4 499.63 239.2 500.5 239.2C501.47 239.2 502.43 236.89 503.4 234.5C504.07 232.85 504.73 227.76 505.4 225.3C506.3 221.97 507.2 220.22 508.1 217.1C509.1 213.63 510.1 209.36 511.1 204.9C512 200.88 512.9 191.6 513.8 191.6C514.6 191.6 515.4 202.9 516.2 202.9C517.1 202.9 518 202.9 518.9 202.9C519.97 202.9 521.03 208.69 522.1 210.6C522.9 212.04 523.7 214.01 524.5 214.1C525.73 214.24 526.97 214.15 528.2 214.3C528.73 214.37 529.27 219.99 529.8 223.9C530.5 229.04 531.2 242.72 531.9 244.3C532.7 246.1 533.5 247.3 534.3 247.3C535.13 247.3 535.97 232.72 536.8 225.9C537.67 218.8 538.53 210.99 539.4 205.5C540.3 199.8 541.2 194.13 542.1 191.2C542.9 188.6 543.7 185.5 544.5 185.5C545.33 185.5 546.17 196.82 547 198.4C547.87 200.04 548.73 199.36 549.6 201.4C550.1 202.58 550.6 219.58 551.1 228C551.5 234.74 551.9 246.24 552.3 247.3C553.1 249.41 553.9 249.09 554.7 250.4C555.6 251.87 556.5 255.37 557.4 256.5C558.2 257.5 559 258.6 559.8 258.6C560.5 258.6 561.2 241.29 561.9 238.2C562.9 233.79 563.9 232.06 564.9 230C565.93 227.87 566.97 226.91 568 224.9C569 222.96 570 221.26 571 217.8C571.7 215.38 572.4 211.34 573.1 205.5C573.77 199.94 574.43 185.57 575.1 176.9C575.93 166.07 576.77 149.27 577.6 147.3C578.47 145.25 579.33 143.9 580.2 143.9C581.03 143.9 581.87 147.67 582.7 152.4C583.43 156.56 584.17 178.86 584.9 187.1C585.6 194.97 586.3 203.52 587 205.5C587.6 207.2 588.2 208.6 588.8 208.6C589.57 208.6 590.33 202.85 591.1 197.3C591.77 192.47 592.43 174.72 593.1 170.8C593.93 165.9 594.77 161.6 595.6 161.6C596.4 161.6 597.2 172.84 598 176.9C598.9 181.47 599.8 188.2 600.7 188.2C601.57 188.2 602.43 181 603.3 181C603.97 181 604.63 188.98 605.3 195.3C605.93 201.3 606.57 214.65 607.2 221.8C607.73 227.82 608.27 237.1 608.8 237.1C609.5 237.1 610.2 210.92 610.9 207.6C611.77 203.49 612.63 202.59 613.5 200.4C614.47 197.96 615.43 193.7 616.4 193.7C617.27 193.7 618.13 197.2 619 199.4C619.9 201.69 620.8 205.67 621.7 207.6C622.5 209.31 623.3 211.6 624.1 211.6C625 211.6 625.9 211.18 626.8 210.6C627.6 210.09 628.4 208.48 629.2 205.5C629.77 203.39 630.33 187.45 630.9 186.1C631.57 184.51 632.23 183.5 632.9 183.5C633.57 183.5 634.23 183.61 634.9 183.8C635.63 184.01 636.37 199.8 637.1 199.8C638 199.8 638.9 177.3 639.8 177.3C640.27 177.3 640.73 192.21 641.2 198.8C641.67 205.39 642.13 215.13 642.6 217.1C643.5 220.9 644.4 220.23 645.3 223.3C645.97 225.58 646.63 232.75 647.3 235.5C648.2 239.21 649.1 241.74 650 243.7C650.8 245.44 651.6 246.69 652.4 247.8C654.1 250.16 655.8 253.5 657.5 253.5C658.4 253.5 659.3 244.1 660.2 244.1C661 244.1 661.8 247.48 662.6 249.8C663.5 252.41 664.4 257.03 665.3 260C666.23 263.08 667.17 268.2 668.1 268.2C669 268.2 669.9 261.29 670.8 258C671.67 254.83 672.53 248.8 673.4 248.8C674.23 248.8 675.07 265.1 675.9 265.1C676.7 265.1 677.5 249.44 678.3 241.6C679.2 232.78 680.1 217.12 681 215.1C681.8 213.3 682.6 213.57 683.4 212C684.3 210.23 685.2 200.4 686.1 200.4C686.9 200.4 687.7 209.37 688.5 213.1C689.4 217.3 690.3 221.61 691.2 224.3C692.07 226.89 692.93 227.6 693.8 230.4C694.63 233.09 695.47 243.3 696.3 243.3C697.17 243.3 698.03 236.07 698.9 234.5C699.73 232.99 700.57 232.6 701.4 231.4C702.2 230.25 703 229.5 703.8 227.3C704.7 224.82 705.6 207.56 706.5 206.9C707.37 206.27 708.23 206.52 709.1 205.9C709.93 205.3 710.77 196.49 711.6 193.7C712.47 190.8 713.33 187.1 714.2 187.1C715.03 187.1 715.87 192.73 716.7 196.7C717.57 200.83 718.43 207.22 719.3 213.1C720.13 218.75 720.97 226.25 721.8 231.4C722.67 236.76 723.53 245.3 724.4 245.3C725.23 245.3 726.07 241.21 726.9 238.6C727.8 235.78 728.7 231.83 729.6 228.4C730.4 225.36 731.2 221.92 732 219.2C732.9 216.14 733.8 215.19 734.7 211C735.57 206.97 736.43 185.5 737.3 185.5C738.27 185.5 739.23 189.17 740.2 190.6C741 191.79 741.8 192.31 742.6 193.7C743.37 195.04 744.13 196.76 744.9 199.8C745.47 202.05 746.03 207.17 746.6 212C747.07 215.98 747.53 221.04 748 226.5C748.83 236.25 749.67 250.23 750.5 261.2C751.23 270.85 751.97 288.22 752.7 288.8C753.53 289.46 754.37 289.8 755.2 289.8C756 289.8 756.8 282.14 757.6 281.6C758.5 280.99 759.4 281.25 760.3 280.6C761.1 280.02 761.9 266.1 762.7 259.2C763.6 251.44 764.5 240.23 765.4 236.7C766.27 233.3 767.13 230 768 230C768.97 230 769.93 231.59 770.9 232.7C771.8 233.73 772.7 235.18 773.6 236.7C774.47 238.16 775.33 240.25 776.2 241.8C777.03 243.29 777.87 243.78 778.7 245.9C779.5 247.93 780.3 253.09 781.1 259.2C781.83 264.8 782.57 279.86 783.3 285.7C783.8 289.68 784.3 294.54 784.8 294.9C785.33 295.28 785.87 295.5 786.4 295.5C787 295.5 787.6 286.89 788.2 279.6C788.77 272.72 789.33 253.99 789.9 246.9C790.37 241.06 790.83 233.7 791.3 233.7C792.2 233.7 793.1 234.85 794 236.7C794.8 238.35 795.6 264.3 796.4 264.3C797.3 264.3 798.2 260.2 799.1 260.2C799.97 260.2 800.83 261.2 801.7 261.2C802.53 261.2 803.37 257.8 804.2 257.8C805 257.8 805.8 277.1 806.6 277.1C807.5 277.1 808.4 276.51 809.3 275.5C810.1 274.6 810.9 260.77 811.7 255.1C812.6 248.72 813.5 243.32 814.4 238.8C815.27 234.45 816.13 229.26 817 227.6C817.83 226 818.67 224.5 819.5 224.5C820.3 224.5 821.1 237.48 821.9 242.9C822.8 248.99 823.7 250.41 824.6 259.2C825.13 264.41 825.67 278.95 826.2 291.8C826.67 303.05 827.13 332.55 827.6 332.7C828.5 333 829.4 333.1 830.3 333.1C830.9 333.1 831.5 318.89 832.1 313.3C832.87 306.15 833.63 295.93 834.4 294.9C835.33 293.64 836.27 292.9 837.2 292.9C837.97 292.9 838.73 313.3 839.5 313.3C840.43 313.3 841.37 311.03 842.3 310.2C843.2 309.4 844.1 309.41 845 308.2C845.87 307.03 846.73 293.9 847.6 289.8C848.57 285.23 849.53 279.6 850.5 279.6C851.23 279.6 851.97 283.79 852.7 285.7C853.53 287.87 854.37 290.3 855.2 291.8C856.07 293.36 856.93 293.31 857.8 295.5C858.57 297.43 859.33 308.93 860.1 318C860.8 326.28 861.5 340.75 862.2 349.2C862.87 357.25 863.53 365.69 864.2 369.6C864.77 372.92 865.33 376.7 865.9 376.7C866.57 376.7 867.23 362.15 867.9 357.3C868.6 352.2 869.3 345.46 870 345.1C870.47 344.86 870.93 344.7 871.4 344.7C872.07 344.7 872.73 356.3 873.4 356.3C874.3 356.3 875.2 351.97 876.1 349.2C877.1 346.12 878.1 340.96 879.1 338C879.93 335.53 880.77 331.8 881.6 331.8C882.4 331.8 883.2 340 884 340C884.9 340 885.8 335.3 886.7 335.3C887.57 335.3 888.43 338.3 889.3 341C890.13 343.59 890.97 351.18 891.8 354.3C892.67 357.55 893.53 361.8 894.4 361.8C895.23 361.8 896.07 357.3 896.9 357.3C897.8 357.3 898.7 370 899.6 370C900.4 370 901.2 360.92 902 355.3C902.9 348.98 903.8 340.27 904.7 332.9C905.5 326.35 906.3 318.01 907.1 313.5C907.93 308.8 908.77 302.7 909.6 302.7C910.47 302.7 911.33 316.35 912.2 319.6C913.1 322.98 914 324.84 914.9 326.7C915.7 328.35 916.5 329.7 917.3 330.8C918.2 332.04 919.1 333.9 920 333.9C920.8 333.9 921.6 314.5 922.4 314.5C923.23 314.5 924.07 319.3 924.9 324.7C925.63 329.45 926.37 346.78 927.1 357.3C927.93 369.25 928.77 383.49 929.6 392C930.27 398.81 930.93 403.96 931.6 408.4C932.27 412.84 932.93 417.38 933.6 419.6C934.17 421.49 934.73 423.7 935.3 423.7C936.1 423.7 936.9 423.06 937.7 422.2C938.53 421.31 939.37 412.4 940.2 412.4C941.07 412.4 941.93 414.02 942.8 415.5C943.7 417.04 944.6 423.7 945.5 423.7C946.3 423.7 947.1 408 947.9 408C948.47 408 949.03 417.84 949.6 420.6C950.2 423.52 950.8 427.1 951.4 427.1C952 427.1 952.6 420.92 953.2 415.5C953.73 410.69 954.27 397.1 954.8 392C955.37 386.58 955.93 381.05 956.5 380C957.13 378.82 957.77 378 958.4 378C959.2 378 960 379.99 960.8 382.3C961.67 384.8 962.53 402.5 963.4 402.5C964.23 402.5 965.07 398.6 965.9 395.8C966.77 392.88 967.63 386.95 968.5 384C969.43 380.82 970.37 380.93 971.3 376.4C971.83 373.81 972.37 361.56 972.9 353.9C973.27 348.63 973.63 337.8 974 337.8C974.7 337.8 975.4 338.04 976.1 338.6C976.53 338.94 976.97 347.48 977.4 352.3C978.03 359.34 978.67 369.88 979.3 374.8C980.1 381.02 980.9 384.47 981.7 388.4C982.5 392.33 983.3 394.51 984.1 398.8C984.9 403.09 985.7 415.7 986.5 415.7C987.03 415.7 987.57 408.65 988.1 405.3C988.63 401.95 989.17 396.35 989.7 395.6C990.4 394.62 991.1 394 991.8 394C992.27 394 992.73 401.7 993.2 405.3C993.63 408.64 994.07 414.09 994.5 414.9C995.2 416.21 995.9 415.74 996.6 417C997 417.72 997.4 419.71 997.8 423.5C998.1 426.34 998.4 442.89 998.7 450.2C999.23 463.2 999.77 473.38 1000.3 482.3C1000.93 492.89 1001.57 509.3 1002.2 509.3C1002.63 509.3 1003.07 498 1003.5 493.5C1004.03 487.96 1004.57 481.5 1005.1 479.1C1005.73 476.25 1006.37 473.5 1007 473.5L1007.5 572L71.5 572Z" fill="#f77b7b"/></g>
<g clip-path="url(#below)"><path d="M71.5 377.3C72.27 367.2 73.03 356.95 73.8 355.9C74.73 354.63 75.67 353.9 76.6 353.9C77.37 353.9 78.13 356.81 78.9 360C79.83 363.88 80.77 389.6 81.7 389.6C83.27 389.6 84.83 333.5 86.4 333.5C87.23 333.5 88.07 335.65 88.9 337.5C89.9 339.72 90.9 342.77 91.9 348.8C92.8 354.22 93.7 387.5 94.6 387.5C95.4 387.5 96.2 385.1 97 385.1C97.9 385.1 98.8 388.6 99.7 388.6C100.5 388.6 101.3 387.1 102.1 387.1C103 387.1 103.9 404.23 104.8 408C105.67 411.63 106.53 415.5 107.4 415.5C108.23 415.5 109.07 376.7 109.9 376.7C110.9 376.7 111.9 377.31 112.9 378.4C113.6 379.17 114.3 388.87 115 391.6C116 395.5 117 396.37 118 399.8C119.03 403.34 120.07 410.34 121.1 414.1C122.6 419.55 124.1 427.3 125.6 427.3C126.47 427.3 127.33 413.38 128.2 410C129.77 403.89 131.33 403.49 132.9 397.8C133.87 394.29 134.83 381.8 135.8 381.8C136.67 381.8 137.53 398.58 138.4 405.9C139.23 412.94 140.07 425.3 140.9 425.3C141.8 425.3 142.7 425.3 143.6 425.3C144.47 425.3 145.33 422.2 146.2 422.2C147.03 422.2 147.87 428.4 148.7 428.4C149.57 428.4 150.43 410 151.3 410C152.13 410 152.97 410.86 153.8 412C154.67 413.18 155.53 424.3 156.4 424.3C157.23 424.3 158.07 406.37 158.9 401.8C159.77 397.05 160.63 396.2 161.5 391.6C162.33 387.17 163.17 373.85 164 371.2C164.87 368.45 165.73 366.1 166.6 366.1C167.57 366.1 168.53 391.69 169.5 393.7C171.07 396.96 172.63 395.9 174.2 398.8C175.07 400.41 175.93 410.4 176.8 410.4C177.63 410.4 178.47 404.14 179.3 399.8C179.9 396.67 180.5 391.85 181.1 388C182.13 381.37 183.17 373.1 184.2 368.6C185.07 364.83 185.93 359.8 186.8 359.8C187.63 359.8 188.47 376.62 189.3 379.8C190.43 384.12 191.57 388 192.7 388C193.6 388 194.5 386.8 195.4 384.9C196.07 383.5 196.73 370.41 197.4 367.6C198.23 364.08 199.07 360.8 199.9 360.8C200.77 360.8 201.63 374.95 202.5 379.8C203.4 384.83 204.3 392 205.2 392C206 392 206.8 372.55 207.6 368.6C208.5 364.16 209.4 359.8 210.3 359.8C211.1 359.8 211.9 363.8 212.7 367.6C213.53 371.56 214.37 385.32 215.2 390C216.07 394.87 216.93 400.23 217.8 400.6C218.7 400.98 219.6 400.83 220.5 401.2C221.43 401.58 222.37 406.46 223.3 408.4C224.2 410.27 225.1 413.1 226 413.1C226.8 413.1 227.6 404.24 228.4 401.2C229.17 398.29 229.93 396.79 230.7 394.1C231.5 391.29 232.3 386.05 233.1 384.3C234.13 382.04 235.17 381.85 236.2 379.8C237.1 378.02 238 376.04 238.9 371.6C239.7 367.65 240.5 347.35 241.3 342C242.07 336.87 242.83 331.4 243.6 331.4C244.4 331.4 245.2 343.63 246 345.1C246.97 346.88 247.93 348.2 248.9 348.2C249.77 348.2 250.63 347.6 251.5 347.6C252.4 347.6 253.3 349.6 254.2 349.6C255 349.6 255.8 345.1 256.6 345.1C257.43 345.1 258.27 356.3 259.1 356.3C259.97 356.3 260.83 329.8 261.7 329.8C262.53 329.8 263.37 331.86 264.2 333.9C265.07 336.03 265.93 346.7 266.8 346.7C267.7 346.7 268.6 327.39 269.5 327.1C270.3 326.84 271.1 326.93 271.9 326.7C272.93 326.4 273.97 322.2 275 322.2C275.8 322.2 276.6 356.75 277.4 367.6C278.17 378 278.93 387.33 279.7 392C280.5 396.87 281.3 402.2 282.1 402.2C283 402.2 283.9 388.11 284.8 386.9C285.67 385.73 286.53 384.9 287.4 384.9C288.23 384.9 289.07 397.1 289.9 397.1C290.47 397.1 291.03 381.01 291.6 372C291.93 366.7 292.27 360.75 292.6 355C293.23 344.07 293.87 326.44 294.5 321.6C295.37 314.98 296.23 310.86 297.1 309.4C298.13 307.66 299.17 307.59 300.2 306.3C301.23 305.01 302.27 304.16 303.3 301.2C303.97 299.29 304.63 285.3 305.3 285.3C306.13 285.3 306.97 297.73 307.8 300.2C308.67 302.77 309.53 303.21 310.4 305.3C311.23 307.31 312.07 313.1 312.9 313.1C313.77 313.1 314.63 286.21 315.5 280.8C316.4 275.18 317.3 269.6 318.2 269.6C319 269.6 319.8 297.49 320.6 307.3C321.63 319.97 322.67 338 323.7 338C324.57 338 325.43 319.19 326.3 315.5C327.13 311.95 327.97 309.7 328.8 308.4C330.37 305.96 331.93 303.7 333.5 303.7C334.5 303.7 335.5 313.9 336.5 318.6C337.33 322.52 338.17 326.31 339 329.8C339.87 333.43 340.73 340 341.6 340C342.43 340 343.27 328.27 344.1 325.7C344.9 323.23 345.7 320.6 346.5 320.6C347.4 320.6 348.3 356.3 349.2 356.3C350.07 356.3 350.93 352.27 351.8 348.2C352.63 344.29 353.47 331.64 354.3 324.7C355.17 317.48 356.03 309.56 356.9 305.3C357.73 301.2 358.57 297.94 359.4 296.1C360.27 294.18 361.13 292 362 292C362.83 292 363.67 295.86 364.5 299.2C365.37 302.68 366.23 311.74 367.1 316.5C367.93 321.07 368.77 328.2 369.6 328.2C370.47 328.2 371.33 321.68 372.2 320.6C373.03 319.56 373.87 319.7 374.7 318.6C375.57 317.45 376.43 310.84 377.3 308.4C378.13 306.06 378.97 302.9 379.8 302.9C380.6 302.9 381.4 305.07 382.2 307.3C383.1 309.81 384 319.13 384.9 323.7C385.8 328.27 386.7 335.5 387.6 335.5C388.4 335.5 389.2 316.04 390 307.3C390.9 297.47 391.8 282.11 392.7 279.8C393.63 277.4 394.57 275.7 395.5 275.7C396.27 275.7 397.03 288.3 397.8 288.3C398.67 288.3 399.53 262.4 400.4 262.4C401.2 262.4 402 267.13 402.8 271.3C403.67 275.82 404.53 286.8 405.4 294.6C406.3 302.7 407.2 314.17 408.1 319C409 323.83 409.9 329.3 410.8 329.3C411.53 329.3 412.27 319.72 413 318.8C413.97 317.59 414.93 318.01 415.9 316.8C416.7 315.8 417.5 308.89 418.3 303.7C419.17 298.08 420.03 288.56 420.9 282.8C421.67 277.71 422.43 274.63 423.2 269.7C423.87 265.41 424.53 258.74 425.2 255C425.67 252.38 426.13 248.5 426.6 248.5C427.37 248.5 428.13 249.8 428.9 249.8C429.63 249.8 430.37 247.8 431.1 247.8C431.93 247.8 432.77 251.16 433.6 255C434.2 257.77 434.8 267.3 435.4 273C436 278.7 436.6 285.82 437.2 289.3C437.97 293.75 438.73 298.9 439.5 298.9C440.3 298.9 441.1 291.06 441.9 288C442.67 285.07 443.43 280.4 444.2 280.4C444.97 280.4 445.73 290.46 446.5 292.2C447.33 294.09 448.17 295.8 449 295.8C449.73 295.8 450.47 287.23 451.2 283.2C452.07 278.44 452.93 270.87 453.8 269.5C454.7 268.08 455.6 267.42 456.5 267C457.6 266.49 458.7 266.59 459.8 266C460.6 265.57 461.4 263.16 462.2 262C463.03 260.79 463.87 258.8 464.7 258.8C465.57 258.8 466.43 265.18 467.3 268.2C468.1 270.99 468.9 276.3 469.7 276.3C470.23 276.3 470.77 260.02 471.3 249.8C471.87 238.94 472.43 219.6 473 211C473.8 198.85 474.6 188.93 475.4 184.5C476.23 179.88 477.07 177.69 477.9 175.3C478.77 172.81 479.63 169.2 480.5 169.2C481.33 169.2 482.17 179.66 483 182.4C483.87 185.25 484.73 188.6 485.6 188.6C486.43 188.6 487.27 170.2 488.1 170.2C488.97 170.2 489.83 173.44 490.7 177.3C491.53 181.01 492.37 196.05 493.2 206.9C493.93 216.45 494.67 238.6 495.4 238.6C496.23 238.6 497.07 231.4 497.9 231.4C498.77 231.4 499.63 239.2 500.5 239.2C501.47 239.2 502.43 236.89 503.4 234.5C504.07 232.85 504.73 227.76 505.4 225.3C506.3 221.97 507.2 220.22 508.1 217.1C509.1 213.63 510.1 209.36 511.1 204.9C512 200.88 512.9 191.6 513.8 191.6C514.6 191.6 515.4 202.9 516.2 202.9C517.1 202.9 518 202.9 518.9 202.9C519.97 202.9 521.03 208.69 522.1 210.6C522.9 212.04 523.7 214.01 524.5 214.1C525.73 214.24 526.97 214.15 528.2 214.3C528.73 214.37 529.27 219.99 529.8 223.9C530.5 229.04 531.2 242.72 531.9 244.3C532.7 246.1 533.5 247.3 534.3 247.3C535.13 247.3 535.97 232.72 536.8 225.9C537.67 218.8 538.53 210.99 539.4 205.5C540.3 199.8 541.2 194.13 542.1 191.2C542.9 188.6 543.7 185.5 544.5 185.5C545.33 185.5 546.17 196.82 547 198.4C547.87 200.04 548.73 199.36 549.6 201.4C550.1 202.58 550.6 219.58 551.1 228C551.5 234.74 551.9 246.24 552.3 247.3C553.1 249.41 553.9 249.09 554.7 250.4C555.6 251.87 556.5 255.37 557.4 256.5C558.2 257.5 559 258.6 559.8 258.6C560.5 258.6 561.2 241.29 561.9 238.2C562.9 233.79 563.9 232.06 564.9 230C565.93 227.87 566.97 226.91 568 224.9C569 222.96 570 221.26 571 217.8C571.7 215.38 572.4 211.34 573.1 205.5C573.77 199.94 574.43 185.57 575.1 176.9C575.93 166.07 576.77 149.27 577.6 147.3C578.47 145.25 579.33 143.9 580.2 143.9C581.03 143.9 581.87 147.67 582.7 152.4C583.43 156.56 584.17 178.86 584.9 187.1C585.6 194.97 586.3 203.52 587 205.5C587.6 207.2 588.2 208.6 588.8 208.6C589.57 208.6 590.33 202.85 591.1 197.3C591.77 192.47 592.43 174.72 593.1 170.8C593.93 165.9 594.77 161.6 595.6 161.6C596.4 161.6 597.2 172.84 598 176.9C598.9 181.47 599.8 188.2 600.7 188.2C601.57 188.2 602.43 181 603.3 181C603.97 181 604.63 188.98 605.3 195.3C605.93 201.3 606.57 214.65 607.2 221.8C607.73 227.82 608.27 237.1 608.8 237.1C609.5 237.1 610.2 210.92 610.9 207.6C611.77 203.49 612.63 202.59 613.5 200.4C614.47 197.96 615.43 193.7 616.4 193.7C617.27 193.7 618.13 197.2 619 199.4C619.9 201.69 620.8 205.67 621.7 207.6C622.5 209.31 623.3 211.6 624.1 211.6C625 211.6 625.9 211.18 626.8 210.6C627.6 210.09 628.4 208.48 629.2 205.5C629.77 203.39 630.33 187.45 630.9 186.1C631.57 184.51 632.23 183.5 632.9 183.5C633.57 183.5 634.23 183.61 634.9 183.8C635.63 184.01 636.37 199.8 637.1 199.8C638 199.8 638.9 177.3 639.8 177.3C640.27 177.3 640.73 192.21 641.2 198.8C641.67 205.39 642.13 215.13 642.6 217.1C643.5 220.9 644.4 220.23 645.3 223.3C645.97 225.58 646.63 232.75 647.3 235.5C648.2 239.21 649.1 241.74 650 243.7C650.8 245.44 651.6 246.69 652.4 247.8C654.1 250.16 655.8 253.5 657.5 253.5C658.4 253.5 659.3 244.1 660.2 244.1C661 244.1 661.8 247.48 662.6 249.8C663.5 252.41 664.4 257.03 665.3 260C666.23 263.08 667.17 268.2 668.1 268.2C669 268.2 669.9 261.29 670.8 258C671.67 254.83 672.53 248.8 673.4 248.8C674.23 248.8 675.07 265.1 675.9 265.1C676.7 265.1 677.5 249.44 678.3 241.6C679.2 232.78 680.1 217.12 681 215.1C681.8 213.3 682.6 213.57 683.4 212C684.3 210.23 685.2 200.4 686.1 200.4C686.9 200.4 687.7 209.37 688.5 213.1C689.4 217.3 690.3 221.61 691.2 224.3C692.07 226.89 692.93 227.6 693.8 230.4C694.63 233.09 695.47 243.3 696.3 243.3C697.17 243.3 698.03 236.07 698.9 234.5C699.73 232.99 700.57 232.6 701.4 231.4C702.2 230.25 703 229.5 703.8 227.3C704.7 224.82 705.6 207.56 706.5 206.9C707.37 206.27 708.23 206.52 709.1 205.9C709.93 205.3 710.77 196.49 711.6 193.7C712.47 190.8 713.33 187.1 714.2 187.1C715.03 187.1 715.87 192.73 716.7 196.7C717.57 200.83 718.43 207.22 719.3 213.1C720.13 218.75 720.97 226.25 721.8 231.4C722.67 236.76 723.53 245.3 724.4 245.3C725.23 245.3 726.07 241.21 726.9 238.6C727.8 235.78 728.7 231.83 729.6 228.4C730.4 225.36 731.2 221.92 732 219.2C732.9 216.14 733.8 215.19 734.7 211C735.57 206.97 736.43 185.5 737.3 185.5C738.27 185.5 739.23 189.17 740.2 190.6C741 191.79 741.8 192.31 742.6 193.7C743.37 195.04 744.13 196.76 744.9 199.8C745.47 202.05 746.03 207.17 746.6 212C747.07 215.98 747.53 221.04 748 226.5C748.83 236.25 749.67 250.23 750.5 261.2C751.23 270.85 751.97 288.22 752.7 288.8C753.53 289.46 754.37 289.8 755.2 289.8C756 289.8 756.8 282.14 757.6 281.6C758.5 280.99 759.4 281.25 760.3 280.6C761.1 280.02 761.9 266.1 762.7 259.2C763.6 251.44 764.5 240.23 765.4 236.7C766.27 233.3 767.13 230 768 230C768.97 230 769.93 231.59 770.9 232.7C771.8 233.73 772.7 235.18 773.6 236.7C774.47 238.16 775.33 240.25 776.2 241.8C777.03 243.29 777.87 243.78 778.7 245.9C779.5 247.93 780.3 253.09 781.1 259.2C781.83 264.8 782.57 279.86 783.3 285.7C783.8 289.68 784.3 294.54 784.8 294.9C785.33 295.28 785.87 295.5 786.4 295.5C787 295.5 787.6 286.89 788.2 279.6C788.77 272.72 789.33 253.99 789.9 246.9C790.37 241.06 790.83 233.7 791.3 233.7C792.2 233.7 793.1 234.85 794 236.7C794.8 238.35 795.6 264.3 796.4 264.3C797.3 264.3 798.2 260.2 799.1 260.2C799.97 260.2 800.83 261.2 801.7 261.2C802.53 261.2 803.37 257.8 804.2 257.8C805 257.8 805.8 277.1 806.6 277.1C807.5 277.1 808.4 276.51 809.3 275.5C810.1 274.6 810.9 260.77 811.7 255.1C812.6 248.72 813.5 243.32 814.4 238.8C815.27 234.45 816.13 229.26 817 227.6C817.83 226 818.67 224.5 819.5 224.5C820.3 224.5 821.1 237.48 821.9 242.9C822.8 248.99 823.7 250.41 824.6 259.2C825.13 264.41 825.67 278.95 826.2 291.8C826.67 303.05 827.13 332.55 827.6 332.7C828.5 333 829.4 333.1 830.3 333.1C830.9 333.1 831.5 318.89 832.1 313.3C832.87 306.15 833.63 295.93 834.4 294.9C835.33 293.64 836.27 292.9 837.2 292.9C837.97 292.9 838.73 313.3 839.5 313.3C840.43 313.3 841.37 311.03 842.3 310.2C843.2 309.4 844.1 309.41 845 308.2C845.87 307.03 846.73 293.9 847.6 289.8C848.57 285.23 849.53 279.6 850.5 279.6C851.23 279.6 851.97 283.79 852.7 285.7C853.53 287.87 854.37 290.3 855.2 291.8C856.07 293.36 856.93 293.31 857.8 295.5C858.57 297.43 859.33 308.93 860.1 318C860.8 326.28 861.5 340.75 862.2 349.2C862.87 357.25 863.53 365.69 864.2 369.6C864.77 372.92 865.33 376.7 865.9 376.7C866.57 376.7 867.23 362.15 867.9 357.3C868.6 352.2 869.3 345.46 870 345.1C870.47 344.86 870.93 344.7 871.4 344.7C872.07 344.7 872.73 356.3 873.4 356.3C874.3 356.3 875.2 351.97 876.1 349.2C877.1 346.12 878.1 340.96 879.1 338C879.93 335.53 880.77 331.8 881.6 331.8C882.4 331.8 883.2 340 884 340C884.9 340 885.8 335.3 886.7 335.3C887.57 335.3 888.43 338.3 889.3 341C890.13 343.59 890.97 351.18 891.8 354.3C892.67 357.55 893.53 361.8 894.4 361.8C895.23 361.8 896.07 357.3 896.9 357.3C897.8 357.3 898.7 370 899.6 370C900.4 370 901.2 360.92 902 355.3C902.9 348.98 903.8 340.27 904.7 332.9C905.5 326.35 906.3 318.01 907.1 313.5C907.93 308.8 908.77 302.7 909.6 302.7C910.47 302.7 911.33 316.35 912.2 319.6C913.1 322.98 914 324.84 914.9 326.7C915.7 328.35 916.5 329.7 917.3 330.8C918.2 332.04 919.1 333.9 920 333.9C920.8 333.9 921.6 314.5 922.4 314.5C923.23 314.5 924.07 319.3 924.9 324.7C925.63 329.45 926.37 346.78 927.1 357.3C927.93 369.25 928.77 383.49 929.6 392C930.27 398.81 930.93 403.96 931.6 408.4C932.27 412.84 932.93 417.38 933.6 419.6C934.17 421.49 934.73 423.7 935.3 423.7C936.1 423.7 936.9 423.06 937.7 422.2C938.53 421.31 939.37 412.4 940.2 412.4C941.07 412.4 941.93 414.02 942.8 415.5C943.7 417.04 944.6 423.7 945.5 423.7C946.3 423.7 947.1 408 947.9 408C948.47 408 949.03 417.84 949.6 420.6C950.2 423.52 950.8 427.1 951.4 427.1C952 427.1 952.6 420.92 953.2 415.5C953.73 410.69 954.27 397.1 954.8 392C955.37 386.58 955.93 381.05 956.5 380C957.13 378.82 957.77 378 958.4 378C959.2 378 960 379.99 960.8 382.3C961.67 384.8 962.53 402.5 963.4 402.5C964.23 402.5 965.07 398.6 965.9 395.8C966.77 392.88 967.63 386.95 968.5 384C969.43 380.82 970.37 380.93 971.3 376.4C971.83 373.81 972.37 361.56 972.9 353.9C973.27 348.63 973.63 337.8 974 337.8C974.7 337.8 975.4 338.04 976.1 338.6C976.53 338.94 976.97 347.48 977.4 352.3C978.03 359.34 978.67 369.88 979.3 374.8C980.1 381.02 980.9 384.47 981.7 388.4C982.5 392.33 983.3 394.51 984.1 398.8C984.9 403.09 985.7 415.7 986.5 415.7C987.03 415.7 987.57 408.65 988.1 405.3C988.63 401.95 989.17 396.35 989.7 395.6C990.4 394.62 991.1 394 991.8 394C992.27 394 992.73 401.7 993.2 405.3C993.63 408.64 994.07 414.09 994.5 414.9C995.2 416.21 995.9 415.74 996.6 417C997 417.72 997.4 419.71 997.8 423.5C998.1 426.34 998.4 442.89 998.7 450.2C999.23 463.2 999.77 473.38 1000.3 482.3C1000.93 492.89 1001.57 509.3 1002.2 509.3C1002.63 509.3 1003.07 498 1003.5 493.5C1004.03 487.96 1004.57 481.5 1005.1 479.1C1005.73 476.25 1006.37 473.5 1007 473.5L1007.5 68L71.5 68Z" fill="#8bcbf7"/></g>
<path d="M71.5 425.7C72.2 425.7 74.2 425.9 75.5 426C76.8 426.1 78.2 426.2 79.5 426.3C80.8 426.4 82.2 426.5 83.5 426.7C84.8 426.8 86.2 426.9 87.5 427C88.8 427.1 90.2 427.2 91.5 427.4C92.8 427.5 94.2 427.6 95.5 427.7C96.8 427.8 98.2 427.9 99.5 428C100.8 428.1 102.2 428.3 103.5 428.4C104.8 428.5 106.2 428.5 107.5 428.6C108.8 428.7 110.2 428.8 111.5 428.9C112.8 429 114.2 429 115.5 429.1C116.8 429.2 118.2 429.2 119.5 429.3C120.8 429.3 122.2 429.3 123.5 429.4C124.8 429.4 126.2 429.4 127.5 429.4C128.8 429.4 130.2 429.4 131.5 429.4C132.8 429.4 134.2 429.3 135.5 429.3C136.8 429.2 138.2 429.2 139.5 429.1C140.8 429 142.2 428.9 143.5 428.8C144.8 428.7 146.2 428.6 147.5 428.4C148.8 428.3 150.2 428.1 151.5 427.9C152.8 427.8 154.2 427.6 155.5 427.3C156.8 427.1 158.2 426.9 159.5 426.6C160.8 426.4 162.2 426.1 163.5 425.8C164.8 425.5 166.2 425.2 167.5 424.8C168.8 424.5 170.2 424.1 171.5 423.7C172.8 423.3 174.2 422.9 175.5 422.4C176.8 422 178.2 421.5 179.5 421C180.8 420.5 182.2 420 183.5 419.4C184.8 418.9 186.2 418.3 187.5 417.7C188.8 417.1 190.2 416.4 191.5 415.8C192.8 415.1 194.2 414.4 195.5 413.7C196.8 413 198.2 412.3 199.5 411.5C200.8 410.8 202.2 410.1 203.5 409.3C204.8 408.5 206.2 407.7 207.5 407C208.8 406.2 210.2 405.4 211.5 404.6C212.8 403.8 214.2 403 215.5 402.2C216.8 401.4 218.2 400.6 219.5 399.8C220.8 399 222.2 398.2 223.5 397.4C224.8 396.6 226.2 395.8 227.5 395C228.8 394.3 230.2 393.5 231.5 392.7C232.8 391.9 234.2 391.2 235.5 390.4C236.8 389.6 238.2 388.9 239.5 388.1C240.8 387.3 242.2 386.6 243.5 385.8C244.8 385.1 246.2 384.3 247.5 383.6C248.8 382.9 250.2 382.1 251.5 381.4C252.8 380.7 254.2 380 255.5 379.3C256.8 378.5 258.2 377.8 259.5 377.1C260.8 376.4 262.2 375.7 263.5 375C264.8 374.4 266.2 373.7 267.5 373C268.8 372.3 270.2 371.7 271.5 371C272.8 370.4 274.2 369.7 275.5 369.1C276.8 368.4 278.2 367.8 279.5 367.2C280.8 366.5 282.2 365.9 283.5 365.3C284.8 364.7 286.2 364.1 287.5 363.5C288.8 362.9 290.2 362.4 291.5 361.8C292.8 361.2 294.2 360.7 295.5 360.1C296.8 359.6 298.2 359 299.5 358.5C300.8 357.9 302.2 357.4 303.5 356.9C304.8 356.3 306.2 355.8 307.5 355.3C308.8 354.7 310.2 354.2 311.5 353.7C312.8 353.1 314.2 352.6 315.5 352C316.8 351.5 318.2 350.9 319.5 350.4C320.8 349.8 322.2 349.2 323.5 348.6C324.8 348 326.2 347.5 327.5 346.8C328.8 346.2 330.2 345.6 331.5 345C332.8 344.3 334.2 343.7 335.5 343C336.8 342.3 338.2 341.6 339.5 340.9C340.8 340.2 342.2 339.4 343.5 338.7C344.8 337.9 346.2 337.1 347.5 336.3C348.8 335.5 350.2 334.7 351.5 333.8C352.8 333 354.2 332.1 355.5 331.2C356.8 330.3 358.2 329.4 359.5 328.5C360.8 327.6 362.2 326.7 363.5 325.7C364.8 324.8 366.2 323.8 367.5 322.8C368.8 321.9 370.2 320.9 371.5 319.9C372.8 318.9 374.2 317.9 375.5 316.9C376.8 315.9 378.2 314.8 379.5 313.8C380.8 312.8 382.2 311.8 383.5 310.7C384.8 309.7 386.2 308.6 387.5 307.6C388.8 306.5 390.2 305.5 391.5 304.5C392.8 303.4 394.2 302.3 395.5 301.3C396.8 300.2 398.2 299.2 399.5 298.2C400.8 297.1 402.2 296.1 403.5 295C404.8 294 406.2 292.9 407.5 291.9C408.8 290.9 410.2 289.9 411.5 288.8C412.8 287.8 414.2 286.8 415.5 285.8C416.8 284.8 418.2 283.8 419.5 282.9C420.8 281.9 422.2 280.9 423.5 280C424.8 279 426.2 278.1 427.5 277.1C428.8 276.2 430.2 275.3 431.5 274.4C432.8 273.5 434.2 272.6 435.5 271.7C436.8 270.8 438.2 269.9 439.5 269C440.8 268.2 442.2 267.3 443.5 266.5C444.8 265.6 446.2 264.8 447.5 264C448.8 263.1 450.2 262.3 451.5 261.5C452.8 260.7 454.2 259.9 455.5 259.1C456.8 258.3 458.2 257.5 459.5 256.8C460.8 256 462.2 255.2 463.5 254.5C464.8 253.7 466.2 253 467.5 252.2C468.8 251.5 470.2 250.7 471.5 250C472.8 249.3 474.2 248.6 475.5 247.9C476.8 247.1 478.2 246.4 479.5 245.7C480.8 245 482.2 244.3 483.5 243.6C484.8 243 486.2 242.3 487.5 241.6C488.8 240.9 490.2 240.2 491.5 239.5C492.8 238.8 494.2 238.2 495.5 237.5C496.8 236.8 498.2 236.1 499.5 235.4C500.8 234.8 502.2 234.1 503.5 233.4C504.8 232.7 506.2 232 507.5 231.3C508.8 230.6 510.2 229.9 511.5 229.2C512.8 228.5 514.2 227.8 515.5 227.1C516.8 226.4 518.2 225.7 519.5 225C520.8 224.3 522.2 223.5 523.5 222.8C524.8 222.1 526.2 221.4 527.5 220.7C528.8 220 530.2 219.3 531.5 218.6C532.8 217.9 534.2 217.3 535.5 216.6C536.8 216 538.2 215.4 539.5 214.8C540.8 214.2 542.2 213.7 543.5 213.2C544.8 212.6 546.2 212.1 547.5 211.6C548.8 211.1 550.2 210.6 551.5 210C552.8 209.5 554.2 209 555.5 208.4C556.8 207.9 558.2 207.4 559.5 206.8C560.8 206.3 562.2 205.8 563.5 205.3C564.8 204.7 566.2 204.2 567.5 203.7C568.8 203.2 570.2 202.7 571.5 202.3C572.8 201.8 574.2 201.3 575.5 200.9C576.8 200.5 578.2 200.1 579.5 199.7C580.8 199.3 582.2 199 583.5 198.6C584.8 198.3 586.2 198 587.5 197.7C588.8 197.4 590.2 197.1 591.5 196.9C592.8 196.6 594.2 196.4 595.5 196.2C596.8 196 598.2 195.8 599.5 195.7C600.8 195.5 602.2 195.4 603.5 195.3C604.8 195.2 606.2 195.1 607.5 195.1C608.8 195 610.2 195 611.5 195C612.8 195 614.2 195 615.5 195C616.8 195.1 618.2 195.2 619.5 195.2C620.8 195.3 622.2 195.5 623.5 195.6C624.8 195.8 626.2 195.9 627.5 196.1C628.8 196.4 630.2 196.6 631.5 196.8C632.8 197.1 634.2 197.4 635.5 197.7C636.8 198 638.2 198.3 639.5 198.7C640.8 199.1 642.2 199.4 643.5 199.9C644.8 200.3 646.2 200.7 647.5 201.2C648.8 201.7 650.2 202.1 651.5 202.7C652.8 203.2 654.2 203.7 655.5 204.3C656.8 204.8 658.2 205.4 659.5 206C660.8 206.6 662.2 207.2 663.5 207.8C664.8 208.5 666.2 209.1 667.5 209.8C668.8 210.5 670.2 211.2 671.5 211.9C672.8 212.6 674.2 213.3 675.5 214C676.8 214.7 678.2 215.5 679.5 216.2C680.8 217 682.2 217.8 683.5 218.6C684.8 219.3 686.2 220.1 687.5 221C688.8 221.8 690.2 222.6 691.5 223.4C692.8 224.2 694.2 225.1 695.5 225.9C696.8 226.7 698.2 227.6 699.5 228.4C700.8 229.3 702.2 230.1 703.5 231C704.8 231.9 706.2 232.7 707.5 233.6C708.8 234.5 710.2 235.4 711.5 236.2C712.8 237.1 714.2 238 715.5 238.9C716.8 239.7 718.2 240.6 719.5 241.5C720.8 242.4 722.2 243.2 723.5 244.1C724.8 245 726.2 245.9 727.5 246.7C728.8 247.6 730.2 248.5 731.5 249.3C732.8 250.2 734.2 251 735.5 251.9C736.8 252.8 738.2 253.6 739.5 254.5C740.8 255.3 742.2 256.2 743.5 257.1C744.8 257.9 746.2 258.8 747.5 259.6C748.8 260.5 750.2 261.4 751.5 262.2C752.8 263.1 754.2 263.9 755.5 264.8C756.8 265.7 758.2 266.5 759.5 267.4C760.8 268.3 762.2 269.2 763.5 270C764.8 270.9 766.2 271.8 767.5 272.7C768.8 273.6 770.2 274.5 771.5 275.4C772.8 276.3 774.2 277.2 775.5 278.1C776.8 279 778.2 279.9 779.5 280.8C780.8 281.8 782.2 282.7 783.5 283.6C784.8 284.6 786.2 285.5 787.5 286.5C788.8 287.4 790.2 288.4 791.5 289.4C792.8 290.3 794.2 291.3 795.5 292.3C796.8 293.3 798.2 294.3 799.5 295.3C800.8 296.3 802.2 297.4 803.5 298.4C804.8 299.4 806.2 300.5 807.5 301.5C808.8 302.6 810.2 303.6 811.5 304.7C812.8 305.8 814.2 306.9 815.5 308C816.8 309.1 818.2 310.2 819.5 311.4C820.8 312.5 822.2 313.7 823.5 314.8C824.8 316 826.2 317.2 827.5 318.4C828.8 319.6 830.2 320.8 831.5 322C832.8 323.2 834.2 324.5 835.5 325.7C836.8 327 838.2 328.2 839.5 329.5C840.8 330.8 842.2 332.1 843.5 333.4C844.8 334.7 846.2 336 847.5 337.3C848.8 338.6 850.2 340 851.5 341.3C852.8 342.6 854.2 344 855.5 345.3C856.8 346.7 858.2 348 859.5 349.4C860.8 350.7 862.2 352.1 863.5 353.4C864.8 354.7 866.2 356 867.5 357.4C868.8 358.7 870.2 360 871.5 361.2C872.8 362.5 874.2 363.8 875.5 365C876.8 366.3 878.2 367.5 879.5 368.7C880.8 369.9 882.2 371.1 883.5 372.3C884.8 373.5 886.2 374.6 887.5 375.8C888.8 376.9 890.2 378 891.5 379.1C892.8 380.3 894.2 381.3 895.5 382.4C896.8 383.5 898.2 384.5 899.5 385.6C900.8 386.6 902.2 387.6 903.5 388.6C904.8 389.6 906.2 390.6 907.5 391.5C908.8 392.5 910.2 393.4 911.5 394.3C912.8 395.2 914.2 396.1 915.5 397C916.8 397.9 918.2 398.7 919.5 399.6C920.8 400.4 922.2 401.2 923.5 402C924.8 402.8 926.2 403.5 927.5 404.3C928.8 405 930.2 405.7 931.5 406.4C932.8 407.1 934.2 407.8 935.5 408.5C936.8 409.1 938.2 409.7 939.5 410.3C940.8 411 942.2 411.5 943.5 412.1C944.8 412.7 946.2 413.2 947.5 413.7C948.8 414.2 950.2 414.7 951.5 415.2C952.8 415.6 954.2 416.1 955.5 416.5C956.8 416.9 958.2 417.3 959.5 417.6C960.8 418 962.2 418.3 963.5 418.6C964.8 419 966.2 419.2 967.5 419.5C968.8 419.8 970.2 420 971.5 420.2C972.8 420.4 974.2 420.6 975.5 420.7C976.8 420.9 978.2 421 979.5 421.2C980.8 421.3 982.2 421.4 983.5 421.5C984.8 421.6 986.2 421.7 987.5 421.8C988.8 422 990.2 422.1 991.5 422.2C992.8 422.3 994.2 422.5 995.5 422.6C996.8 422.8 998.2 423 999.5 423.2C1000.8 423.4 1002.2 423.7 1003.5 424C1004.8 424.2 1006.8 424.8 1007.5 424.9" fill="none" stroke="#3a3a3a" stroke-width="1.1" stroke-linejoin="round"/>
<path d="M71.5 377.3C72.27 367.2 73.03 356.95 73.8 355.9C74.73 354.63 75.67 353.9 76.6 353.9C77.37 353.9 78.13 356.81 78.9 360C79.83 363.88 80.77 389.6 81.7 389.6C83.27 389.6 84.83 333.5 86.4 333.5C87.23 333.5 88.07 335.65 88.9 337.5C89.9 339.72 90.9 342.77 91.9 348.8C92.8 354.22 93.7 387.5 94.6 387.5C95.4 387.5 96.2 385.1 97 385.1C97.9 385.1 98.8 388.6 99.7 388.6C100.5 388.6 101.3 387.1 102.1 387.1C103 387.1 103.9 404.23 104.8 408C105.67 411.63 106.53 415.5 107.4 415.5C108.23 415.5 109.07 376.7 109.9 376.7C110.9 376.7 111.9 377.31 112.9 378.4C113.6 379.17 114.3 388.87 115 391.6C116 395.5 117 396.37 118 399.8C119.03 403.34 120.07 410.34 121.1 414.1C122.6 419.55 124.1 427.3 125.6 427.3C126.47 427.3 127.33 413.38 128.2 410C129.77 403.89 131.33 403.49 132.9 397.8C133.87 394.29 134.83 381.8 135.8 381.8C136.67 381.8 137.53 398.58 138.4 405.9C139.23 412.94 140.07 425.3 140.9 425.3C141.8 425.3 142.7 425.3 143.6 425.3C144.47 425.3 145.33 422.2 146.2 422.2C147.03 422.2 147.87 428.4 148.7 428.4C149.57 428.4 150.43 410 151.3 410C152.13 410 152.97 410.86 153.8 412C154.67 413.18 155.53 424.3 156.4 424.3C157.23 424.3 158.07 406.37 158.9 401.8C159.77 397.05 160.63 396.2 161.5 391.6C162.33 387.17 163.17 373.85 164 371.2C164.87 368.45 165.73 366.1 166.6 366.1C167.57 366.1 168.53 391.69 169.5 393.7C171.07 396.96 172.63 395.9 174.2 398.8C175.07 400.41 175.93 410.4 176.8 410.4C177.63 410.4 178.47 404.14 179.3 399.8C179.9 396.67 180.5 391.85 181.1 388C182.13 381.37 183.17 373.1 184.2 368.6C185.07 364.83 185.93 359.8 186.8 359.8C187.63 359.8 188.47 376.62 189.3 379.8C190.43 384.12 191.57 388 192.7 388C193.6 388 194.5 386.8 195.4 384.9C196.07 383.5 196.73 370.41 197.4 367.6C198.23 364.08 199.07 360.8 199.9 360.8C200.77 360.8 201.63 374.95 202.5 379.8C203.4 384.83 204.3 392 205.2 392C206 392 206.8 372.55 207.6 368.6C208.5 364.16 209.4 359.8 210.3 359.8C211.1 359.8 211.9 363.8 212.7 367.6C213.53 371.56 214.37 385.32 215.2 390C216.07 394.87 216.93 400.23 217.8 400.6C218.7 400.98 219.6 400.83 220.5 401.2C221.43 401.58 222.37 406.46 223.3 408.4C224.2 410.27 225.1 413.1 226 413.1C226.8 413.1 227.6 404.24 228.4 401.2C229.17 398.29 229.93 396.79 230.7 394.1C231.5 391.29 232.3 386.05 233.1 384.3C234.13 382.04 235.17 381.85 236.2 379.8C237.1 378.02 238 376.04 238.9 371.6C239.7 367.65 240.5 347.35 241.3 342C242.07 336.87 242.83 331.4 243.6 331.4C244.4 331.4 245.2 343.63 246 345.1C246.97 346.88 247.93 348.2 248.9 348.2C249.77 348.2 250.63 347.6 251.5 347.6C252.4 347.6 253.3 349.6 254.2 349.6C255 349.6 255.8 345.1 256.6 345.1C257.43 345.1 258.27 356.3 259.1 356.3C259.97 356.3 260.83 329.8 261.7 329.8C262.53 329.8 263.37 331.86 264.2 333.9C265.07 336.03 265.93 346.7 266.8 346.7C267.7 346.7 268.6 327.39 269.5 327.1C270.3 326.84 271.1 326.93 271.9 326.7C272.93 326.4 273.97 322.2 275 322.2C275.8 322.2 276.6 356.75 277.4 367.6C278.17 378 278.93 387.33 279.7 392C280.5 396.87 281.3 402.2 282.1 402.2C283 402.2 283.9 388.11 284.8 386.9C285.67 385.73 286.53 384.9 287.4 384.9C288.23 384.9 289.07 397.1 289.9 397.1C290.47 397.1 291.03 381.01 291.6 372C291.93 366.7 292.27 360.75 292.6 355C293.23 344.07 293.87 326.44 294.5 321.6C295.37 314.98 296.23 310.86 297.1 309.4C298.13 307.66 299.17 307.59 300.2 306.3C301.23 305.01 302.27 304.16 303.3 301.2C303.97 299.29 304.63 285.3 305.3 285.3C306.13 285.3 306.97 297.73 307.8 300.2C308.67 302.77 309.53 303.21 310.4 305.3C311.23 307.31 312.07 313.1 312.9 313.1C313.77 313.1 314.63 286.21 315.5 280.8C316.4 275.18 317.3 269.6 318.2 269.6C319 269.6 319.8 297.49 320.6 307.3C321.63 319.97 322.67 338 323.7 338C324.57 338 325.43 319.19 326.3 315.5C327.13 311.95 327.97 309.7 328.8 308.4C330.37 305.96 331.93 303.7 333.5 303.7C334.5 303.7 335.5 313.9 336.5 318.6C337.33 322.52 338.17 326.31 339 329.8C339.87 333.43 340.73 340 341.6 340C342.43 340 343.27 328.27 344.1 325.7C344.9 323.23 345.7 320.6 346.5 320.6C347.4 320.6 348.3 356.3 349.2 356.3C350.07 356.3 350.93 352.27 351.8 348.2C352.63 344.29 353.47 331.64 354.3 324.7C355.17 317.48 356.03 309.56 356.9 305.3C357.73 301.2 358.57 297.94 359.4 296.1C360.27 294.18 361.13 292 362 292C362.83 292 363.67 295.86 364.5 299.2C365.37 302.68 366.23 311.74 367.1 316.5C367.93 321.07 368.77 328.2 369.6 328.2C370.47 328.2 371.33 321.68 372.2 320.6C373.03 319.56 373.87 319.7 374.7 318.6C375.57 317.45 376.43 310.84 377.3 308.4C378.13 306.06 378.97 302.9 379.8 302.9C380.6 302.9 381.4 305.07 382.2 307.3C383.1 309.81 384 319.13 384.9 323.7C385.8 328.27 386.7 335.5 387.6 335.5C388.4 335.5 389.2 316.04 390 307.3C390.9 297.47 391.8 282.11 392.7 279.8C393.63 277.4 394.57 275.7 395.5 275.7C396.27 275.7 397.03 288.3 397.8 288.3C398.67 288.3 399.53 262.4 400.4 262.4C401.2 262.4 402 267.13 402.8 271.3C403.67 275.82 404.53 286.8 405.4 294.6C406.3 302.7 407.2 314.17 408.1 319C409 323.83 409.9 329.3 410.8 329.3C411.53 329.3 412.27 319.72 413 318.8C413.97 317.59 414.93 318.01 415.9 316.8C416.7 315.8 417.5 308.89 418.3 303.7C419.17 298.08 420.03 288.56 420.9 282.8C421.67 277.71 422.43 274.63 423.2 269.7C423.87 265.41 424.53 258.74 425.2 255C425.67 252.38 426.13 248.5 426.6 248.5C427.37 248.5 428.13 249.8 428.9 249.8C429.63 249.8 430.37 247.8 431.1 247.8C431.93 247.8 432.77 251.16 433.6 255C434.2 257.77 434.8 267.3 435.4 273C436 278.7 436.6 285.82 437.2 289.3C437.97 293.75 438.73 298.9 439.5 298.9C440.3 298.9 441.1 291.06 441.9 288C442.67 285.07 443.43 280.4 444.2 280.4C444.97 280.4 445.73 290.46 446.5 292.2C447.33 294.09 448.17 295.8 449 295.8C449.73 295.8 450.47 287.23 451.2 283.2C452.07 278.44 452.93 270.87 453.8 269.5C454.7 268.08 455.6 267.42 456.5 267C457.6 266.49 458.7 266.59 459.8 266C460.6 265.57 461.4 263.16 462.2 262C463.03 260.79 463.87 258.8 464.7 258.8C465.57 258.8 466.43 265.18 467.3 268.2C468.1 270.99 468.9 276.3 469.7 276.3C470.23 276.3 470.77 260.02 471.3 249.8C471.87 238.94 472.43 219.6 473 211C473.8 198.85 474.6 188.93 475.4 184.5C476.23 179.88 477.07 177.69 477.9 175.3C478.77 172.81 479.63 169.2 480.5 169.2C481.33 169.2 482.17 179.66 483 182.4C483.87 185.25 484.73 188.6 485.6 188.6C486.43 188.6 487.27 170.2 488.1 170.2C488.97 170.2 489.83 173.44 490.7 177.3C491.53 181.01 492.37 196.05 493.2 206.9C493.93 216.45 494.67 238.6 495.4 238.6C496.23 238.6 497.07 231.4 497.9 231.4C498.77 231.4 499.63 239.2 500.5 239.2C501.47 239.2 502.43 236.89 503.4 234.5C504.07 232.85 504.73 227.76 505.4 225.3C506.3 221.97 507.2 220.22 508.1 217.1C509.1 213.63 510.1 209.36 511.1 204.9C512 200.88 512.9 191.6 513.8 191.6C514.6 191.6 515.4 202.9 516.2 202.9C517.1 202.9 518 202.9 518.9 202.9C519.97 202.9 521.03 208.69 522.1 210.6C522.9 212.04 523.7 214.01 524.5 214.1C525.73 214.24 526.97 214.15 528.2 214.3C528.73 214.37 529.27 219.99 529.8 223.9C530.5 229.04 531.2 242.72 531.9 244.3C532.7 246.1 533.5 247.3 534.3 247.3C535.13 247.3 535.97 232.72 536.8 225.9C537.67 218.8 538.53 210.99 539.4 205.5C540.3 199.8 541.2 194.13 542.1 191.2C542.9 188.6 543.7 185.5 544.5 185.5C545.33 185.5 546.17 196.82 547 198.4C547.87 200.04 548.73 199.36 549.6 201.4C550.1 202.58 550.6 219.58 551.1 228C551.5 234.74 551.9 246.24 552.3 247.3C553.1 249.41 553.9 249.09 554.7 250.4C555.6 251.87 556.5 255.37 557.4 256.5C558.2 257.5 559 258.6 559.8 258.6C560.5 258.6 561.2 241.29 561.9 238.2C562.9 233.79 563.9 232.06 564.9 230C565.93 227.87 566.97 226.91 568 224.9C569 222.96 570 221.26 571 217.8C571.7 215.38 572.4 211.34 573.1 205.5C573.77 199.94 574.43 185.57 575.1 176.9C575.93 166.07 576.77 149.27 577.6 147.3C578.47 145.25 579.33 143.9 580.2 143.9C581.03 143.9 581.87 147.67 582.7 152.4C583.43 156.56 584.17 178.86 584.9 187.1C585.6 194.97 586.3 203.52 587 205.5C587.6 207.2 588.2 208.6 588.8 208.6C589.57 208.6 590.33 202.85 591.1 197.3C591.77 192.47 592.43 174.72 593.1 170.8C593.93 165.9 594.77 161.6 595.6 161.6C596.4 161.6 597.2 172.84 598 176.9C598.9 181.47 599.8 188.2 600.7 188.2C601.57 188.2 602.43 181 603.3 181C603.97 181 604.63 188.98 605.3 195.3C605.93 201.3 606.57 214.65 607.2 221.8C607.73 227.82 608.27 237.1 608.8 237.1C609.5 237.1 610.2 210.92 610.9 207.6C611.77 203.49 612.63 202.59 613.5 200.4C614.47 197.96 615.43 193.7 616.4 193.7C617.27 193.7 618.13 197.2 619 199.4C619.9 201.69 620.8 205.67 621.7 207.6C622.5 209.31 623.3 211.6 624.1 211.6C625 211.6 625.9 211.18 626.8 210.6C627.6 210.09 628.4 208.48 629.2 205.5C629.77 203.39 630.33 187.45 630.9 186.1C631.57 184.51 632.23 183.5 632.9 183.5C633.57 183.5 634.23 183.61 634.9 183.8C635.63 184.01 636.37 199.8 637.1 199.8C638 199.8 638.9 177.3 639.8 177.3C640.27 177.3 640.73 192.21 641.2 198.8C641.67 205.39 642.13 215.13 642.6 217.1C643.5 220.9 644.4 220.23 645.3 223.3C645.97 225.58 646.63 232.75 647.3 235.5C648.2 239.21 649.1 241.74 650 243.7C650.8 245.44 651.6 246.69 652.4 247.8C654.1 250.16 655.8 253.5 657.5 253.5C658.4 253.5 659.3 244.1 660.2 244.1C661 244.1 661.8 247.48 662.6 249.8C663.5 252.41 664.4 257.03 665.3 260C666.23 263.08 667.17 268.2 668.1 268.2C669 268.2 669.9 261.29 670.8 258C671.67 254.83 672.53 248.8 673.4 248.8C674.23 248.8 675.07 265.1 675.9 265.1C676.7 265.1 677.5 249.44 678.3 241.6C679.2 232.78 680.1 217.12 681 215.1C681.8 213.3 682.6 213.57 683.4 212C684.3 210.23 685.2 200.4 686.1 200.4C686.9 200.4 687.7 209.37 688.5 213.1C689.4 217.3 690.3 221.61 691.2 224.3C692.07 226.89 692.93 227.6 693.8 230.4C694.63 233.09 695.47 243.3 696.3 243.3C697.17 243.3 698.03 236.07 698.9 234.5C699.73 232.99 700.57 232.6 701.4 231.4C702.2 230.25 703 229.5 703.8 227.3C704.7 224.82 705.6 207.56 706.5 206.9C707.37 206.27 708.23 206.52 709.1 205.9C709.93 205.3 710.77 196.49 711.6 193.7C712.47 190.8 713.33 187.1 714.2 187.1C715.03 187.1 715.87 192.73 716.7 196.7C717.57 200.83 718.43 207.22 719.3 213.1C720.13 218.75 720.97 226.25 721.8 231.4C722.67 236.76 723.53 245.3 724.4 245.3C725.23 245.3 726.07 241.21 726.9 238.6C727.8 235.78 728.7 231.83 729.6 228.4C730.4 225.36 731.2 221.92 732 219.2C732.9 216.14 733.8 215.19 734.7 211C735.57 206.97 736.43 185.5 737.3 185.5C738.27 185.5 739.23 189.17 740.2 190.6C741 191.79 741.8 192.31 742.6 193.7C743.37 195.04 744.13 196.76 744.9 199.8C745.47 202.05 746.03 207.17 746.6 212C747.07 215.98 747.53 221.04 748 226.5C748.83 236.25 749.67 250.23 750.5 261.2C751.23 270.85 751.97 288.22 752.7 288.8C753.53 289.46 754.37 289.8 755.2 289.8C756 289.8 756.8 282.14 757.6 281.6C758.5 280.99 759.4 281.25 760.3 280.6C761.1 280.02 761.9 266.1 762.7 259.2C763.6 251.44 764.5 240.23 765.4 236.7C766.27 233.3 767.13 230 768 230C768.97 230 769.93 231.59 770.9 232.7C771.8 233.73 772.7 235.18 773.6 236.7C774.47 238.16 775.33 240.25 776.2 241.8C777.03 243.29 777.87 243.78 778.7 245.9C779.5 247.93 780.3 253.09 781.1 259.2C781.83 264.8 782.57 279.86 783.3 285.7C783.8 289.68 784.3 294.54 784.8 294.9C785.33 295.28 785.87 295.5 786.4 295.5C787 295.5 787.6 286.89 788.2 279.6C788.77 272.72 789.33 253.99 789.9 246.9C790.37 241.06 790.83 233.7 791.3 233.7C792.2 233.7 793.1 234.85 794 236.7C794.8 238.35 795.6 264.3 796.4 264.3C797.3 264.3 798.2 260.2 799.1 260.2C799.97 260.2 800.83 261.2 801.7 261.2C802.53 261.2 803.37 257.8 804.2 257.8C805 257.8 805.8 277.1 806.6 277.1C807.5 277.1 808.4 276.51 809.3 275.5C810.1 274.6 810.9 260.77 811.7 255.1C812.6 248.72 813.5 243.32 814.4 238.8C815.27 234.45 816.13 229.26 817 227.6C817.83 226 818.67 224.5 819.5 224.5C820.3 224.5 821.1 237.48 821.9 242.9C822.8 248.99 823.7 250.41 824.6 259.2C825.13 264.41 825.67 278.95 826.2 291.8C826.67 303.05 827.13 332.55 827.6 332.7C828.5 333 829.4 333.1 830.3 333.1C830.9 333.1 831.5 318.89 832.1 313.3C832.87 306.15 833.63 295.93 834.4 294.9C835.33 293.64 836.27 292.9 837.2 292.9C837.97 292.9 838.73 313.3 839.5 313.3C840.43 313.3 841.37 311.03 842.3 310.2C843.2 309.4 844.1 309.41 845 308.2C845.87 307.03 846.73 293.9 847.6 289.8C848.57 285.23 849.53 279.6 850.5 279.6C851.23 279.6 851.97 283.79 852.7 285.7C853.53 287.87 854.37 290.3 855.2 291.8C856.07 293.36 856.93 293.31 857.8 295.5C858.57 297.43 859.33 308.93 860.1 318C860.8 326.28 861.5 340.75 862.2 349.2C862.87 357.25 863.53 365.69 864.2 369.6C864.77 372.92 865.33 376.7 865.9 376.7C866.57 376.7 867.23 362.15 867.9 357.3C868.6 352.2 869.3 345.46 870 345.1C870.47 344.86 870.93 344.7 871.4 344.7C872.07 344.7 872.73 356.3 873.4 356.3C874.3 356.3 875.2 351.97 876.1 349.2C877.1 346.12 878.1 340.96 879.1 338C879.93 335.53 880.77 331.8 881.6 331.8C882.4 331.8 883.2 340 884 340C884.9 340 885.8 335.3 886.7 335.3C887.57 335.3 888.43 338.3 889.3 341C890.13 343.59 890.97 351.18 891.8 354.3C892.67 357.55 893.53 361.8 894.4 361.8C895.23 361.8 896.07 357.3 896.9 357.3C897.8 357.3 898.7 370 899.6 370C900.4 370 901.2 360.92 902 355.3C902.9 348.98 903.8 340.27 904.7 332.9C905.5 326.35 906.3 318.01 907.1 313.5C907.93 308.8 908.77 302.7 909.6 302.7C910.47 302.7 911.33 316.35 912.2 319.6C913.1 322.98 914 324.84 914.9 326.7C915.7 328.35 916.5 329.7 917.3 330.8C918.2 332.04 919.1 333.9 920 333.9C920.8 333.9 921.6 314.5 922.4 314.5C923.23 314.5 924.07 319.3 924.9 324.7C925.63 329.45 926.37 346.78 927.1 357.3C927.93 369.25 928.77 383.49 929.6 392C930.27 398.81 930.93 403.96 931.6 408.4C932.27 412.84 932.93 417.38 933.6 419.6C934.17 421.49 934.73 423.7 935.3 423.7C936.1 423.7 936.9 423.06 937.7 422.2C938.53 421.31 939.37 412.4 940.2 412.4C941.07 412.4 941.93 414.02 942.8 415.5C943.7 417.04 944.6 423.7 945.5 423.7C946.3 423.7 947.1 408 947.9 408C948.47 408 949.03 417.84 949.6 420.6C950.2 423.52 950.8 427.1 951.4 427.1C952 427.1 952.6 420.92 953.2 415.5C953.73 410.69 954.27 397.1 954.8 392C955.37 386.58 955.93 381.05 956.5 380C957.13 378.82 957.77 378 958.4 378C959.2 378 960 379.99 960.8 382.3C961.67 384.8 962.53 402.5 963.4 402.5C964.23 402.5 965.07 398.6 965.9 395.8C966.77 392.88 967.63 386.95 968.5 384C969.43 380.82 970.37 380.93 971.3 376.4C971.83 373.81 972.37 361.56 972.9 353.9C973.27 348.63 973.63 337.8 974 337.8C974.7 337.8 975.4 338.04 976.1 338.6C976.53 338.94 976.97 347.48 977.4 352.3C978.03 359.34 978.67 369.88 979.3 374.8C980.1 381.02 980.9 384.47 981.7 388.4C982.5 392.33 983.3 394.51 984.1 398.8C984.9 403.09 985.7 415.7 986.5 415.7C987.03 415.7 987.57 408.65 988.1 405.3C988.63 401.95 989.17 396.35 989.7 395.6C990.4 394.62 991.1 394 991.8 394C992.27 394 992.73 401.7 993.2 405.3C993.63 408.64 994.07 414.09 994.5 414.9C995.2 416.21 995.9 415.74 996.6 417C997 417.72 997.4 419.71 997.8 423.5C998.1 426.34 998.4 442.89 998.7 450.2C999.23 463.2 999.77 473.38 1000.3 482.3C1000.93 492.89 1001.57 509.3 1002.2 509.3C1002.63 509.3 1003.07 498 1003.5 493.5C1004.03 487.96 1004.57 481.5 1005.1 479.1C1005.73 476.25 1006.37 473.5 1007 473.5" fill="none" stroke="#3a3a3a" stroke-width="1.1" stroke-linejoin="round"/>
</g>
<g stroke="#000" stroke-width="1" fill="none" shape-rendering="crispEdges">
<path d="M71.5 68V573 M1007.5 68V573 M71 68.5H1008 M71 572.5H1008"/>
<path d="M67 68.5H71M67 140.5H71M67 212.5H71M67 284.5H71M67 356.5H71M67 428.5H71M67 500.5H71M67 572.5H71"/>
</g>
</svg>
<div class="title"><span id="t1">Evolution des températures moyennes quotidiennes en France en 2014</span></div>
<div class="yl" style="top:61.5px">30.0</div><div class="yl" style="top:133.5px">25.0</div><div class="yl" style="top:205.5px">20.0</div><div class="yl" style="top:277.5px">15.0</div><div class="yl" style="top:349.5px">10.0</div><div class="yl" style="top:421.5px">5.0</div><div class="yl" style="top:493.5px">0.0</div><div class="yl" style="top:565.5px">-5.0</div>
<div class="xl" style="left:64.2px"><span><b>01/01/2014</b></span></div><div class="xl" style="left:95.1px"><span><b>13/01/2014</b></span></div><div class="xl" style="left:125.9px"><span><b>25/01/2014</b></span></div><div class="xl" style="left:156.8px"><span><b>06/02/2014</b></span></div><div class="xl" style="left:187.6px"><span><b>18/02/2014</b></span></div><div class="xl" style="left:218.5px"><span><b>02/03/2014</b></span></div><div class="xl" style="left:249.3px"><span><b>14/03/2014</b></span></div><div class="xl" style="left:280.2px"><span><b>26/03/2014</b></span></div><div class="xl" style="left:311.1px"><span><b>07/04/2014</b></span></div><div class="xl" style="left:341.9px"><span><b>19/04/2014</b></span></div><div class="xl" style="left:372.8px"><span><b>01/05/2014</b></span></div><div class="xl" style="left:403.6px"><span><b>13/05/2014</b></span></div><div class="xl" style="left:434.5px"><span><b>25/05/2014</b></span></div><div class="xl" style="left:465.3px"><span><b>06/06/2014</b></span></div><div class="xl" style="left:496.2px"><span><b>18/06/2014</b></span></div><div class="xl" style="left:527.1px"><span><b>30/06/2014</b></span></div><div class="xl" style="left:557.9px"><span><b>12/07/2014</b></span></div><div class="xl" style="left:588.8px"><span><b>24/07/2014</b></span></div><div class="xl" style="left:619.6px"><span><b>05/08/2014</b></span></div><div class="xl" style="left:650.5px"><span><b>17/08/2014</b></span></div><div class="xl" style="left:681.3px"><span><b>29/08/2014</b></span></div><div class="xl" style="left:712.2px"><span><b>10/09/2014</b></span></div><div class="xl" style="left:743.1px"><span><b>22/09/2014</b></span></div><div class="xl" style="left:773.9px"><span><b>04/10/2014</b></span></div><div class="xl" style="left:804.8px"><span><b>16/10/2014</b></span></div><div class="xl" style="left:835.6px"><span><b>28/10/2014</b></span></div><div class="xl" style="left:866.5px"><span><b>09/11/2014</b></span></div><div class="xl" style="left:897.3px"><span><b>21/11/2014</b></span></div><div class="xl" style="left:928.2px"><span><b>03/12/2014</b></span></div><div class="xl" style="left:959.1px"><span><b>15/12/2014</b></span></div><div class="xl" style="left:989.9px"><span><b>27/12/2014</b></span></div>
<div class="ytitle"><span><b>Température (°C)</b></span></div>
<div class="foot"><span id="f1">Diagnostic établi à partir de l'indicateur thermique, moyenne des températures quotidiennes de 30 stations métropolitaines</span></div>
<div class="logo">
<svg class="ico" width="27" height="28" viewBox="0 0 27 28">
<defs>
<linearGradient id="g1" x1="0" y1="0" x2="1" y2="0"><stop offset="0" stop-color="#17489a"/><stop offset="0.25" stop-color="#1f52a0"/><stop offset="0.6" stop-color="#6d8fc3"/><stop offset="1" stop-color="#cdd9ea"/></linearGradient>
<linearGradient id="g2" x1="0" y1="0" x2="1" y2="0"><stop offset="0" stop-color="#ffffff"/><stop offset="0.2" stop-color="#c9d6ea"/><stop offset="0.6" stop-color="#5f84bd"/><stop offset="1" stop-color="#123f91"/></linearGradient>
</defs>
<rect x="0" y="0" width="27" height="28" fill="url(#g1)"/>
<circle cx="13.8" cy="14" r="10.9" fill="url(#g2)"/>
<path d="M21.2 3.3L25.3 8.6L18.3 9.7Z" fill="#e30613"/>
</svg>
<div class="txt"><span id="l1">METEO FRANCE</span></div>
</div>
</body></html>
